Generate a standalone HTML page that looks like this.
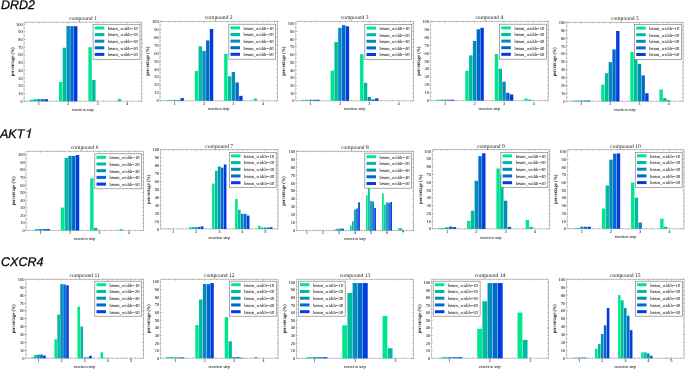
<!DOCTYPE html>
<html><head><meta charset="utf-8"><title>beam width charts</title><style>html,body{margin:0;padding:0;background:#fff;width:685px;height:369px;overflow:hidden}svg{display:block;will-change:transform}</style></head><body>
<svg width="685" height="369" viewBox="0 0 685 369" font-family="'Liberation Serif', serif"><style>text{stroke:none;text-rendering:geometricPrecision} .rl{stroke:#111;stroke-width:0.3px}</style><text class="rl" x="1.0" y="9.0" font-family="'Liberation Sans', sans-serif" font-style="italic" font-size="12.5" fill="#000">DRD2</text><text class="rl" x="0.0" y="137.8" font-family="'Liberation Sans', sans-serif" font-style="italic" font-size="12.5" fill="#000">AKT</text><text class="rl" x="1.1" y="265.9" font-family="'Liberation Sans', sans-serif" font-style="italic" font-size="12.5" fill="#000">CXCR4</text><path d="M29.8 128.6L31.3 128.6L29.35 137.95L27.85 137.95Z M29.9 128.7C29.2 129.9 28.0 130.8 26.45 131.25L26.7 132.35C28.2 131.9 29.4 131.1 30.3 130.1Z" fill="#111"/>
<line x1="24" y1="22.2" x2="141.8" y2="22.2" stroke="#a0a0a0" stroke-width="0.7"/>
<line x1="141.8" y1="22.2" x2="141.8" y2="101.3" stroke="#a0a0a0" stroke-width="0.7"/>
<line x1="24" y1="22.2" x2="24" y2="101.3" stroke="#b4b4b4" stroke-width="0.7"/>
<line x1="24" y1="101.3" x2="141.8" y2="101.3" stroke="#b4b4b4" stroke-width="0.7"/>
<path d="M24 101.3h1.3M141.8 101.3h-1.3M24 97.44h0.8M141.8 97.44h-0.8M24 93.57h1.3M141.8 93.57h-1.3M24 89.71h0.8M141.8 89.71h-0.8M24 85.85h1.3M141.8 85.85h-1.3M24 81.98h0.8M141.8 81.98h-0.8M24 78.12h1.3M141.8 78.12h-1.3M24 74.26h0.8M141.8 74.26h-0.8M24 70.39h1.3M141.8 70.39h-1.3M24 66.53h0.8M141.8 66.53h-0.8M24 62.67h1.3M141.8 62.67h-1.3M24 58.8h0.8M141.8 58.8h-0.8M24 54.94h1.3M141.8 54.94h-1.3M24 51.08h0.8M141.8 51.08h-0.8M24 47.21h1.3M141.8 47.21h-1.3M24 43.35h0.8M141.8 43.35h-0.8M24 39.49h1.3M141.8 39.49h-1.3M24 35.62h0.8M141.8 35.62h-0.8M24 31.76h1.3M141.8 31.76h-1.3M24 27.9h0.8M141.8 27.9h-0.8M24 24.04h1.3M141.8 24.04h-1.3M27 101.3v-0.8M27 22.2v0.8M32.89 101.3v-0.8M32.89 22.2v0.8M38.77 101.3v-1.3M38.77 22.2v1.3M44.65 101.3v-0.8M44.65 22.2v0.8M50.54 101.3v-0.8M50.54 22.2v0.8M56.42 101.3v-0.8M56.42 22.2v0.8M62.31 101.3v-0.8M62.31 22.2v0.8M68.19 101.3v-1.3M68.19 22.2v1.3M74.07 101.3v-0.8M74.07 22.2v0.8M79.96 101.3v-0.8M79.96 22.2v0.8M85.84 101.3v-0.8M85.84 22.2v0.8M91.73 101.3v-0.8M91.73 22.2v0.8M97.61 101.3v-1.3M97.61 22.2v1.3M103.49 101.3v-0.8M103.49 22.2v0.8M109.38 101.3v-0.8M109.38 22.2v0.8M115.26 101.3v-0.8M115.26 22.2v0.8M121.15 101.3v-0.8M121.15 22.2v0.8M127.03 101.3v-1.3M127.03 22.2v1.3M132.91 101.3v-0.8M132.91 22.2v0.8M138.8 101.3v-0.8M138.8 22.2v0.8" stroke="#555" stroke-width="0.45" fill="none"/>
<g><rect x="29.53" y="99.83" width="3.42" height="1.47" fill="#00e68c"/><rect x="33.3" y="99.21" width="3.42" height="2.09" fill="#00baa2"/><rect x="37.06" y="99.21" width="3.42" height="2.09" fill="#008eb9"/><rect x="40.83" y="99.21" width="3.42" height="2.09" fill="#0069cc"/><rect x="44.59" y="99.21" width="3.42" height="2.09" fill="#003cde"/><rect x="58.95" y="81.98" width="3.42" height="19.32" fill="#00e68c"/><rect x="62.72" y="47.68" width="3.42" height="53.62" fill="#00baa2"/><rect x="66.48" y="25.97" width="3.42" height="75.33" fill="#008eb9"/><rect x="70.25" y="26.2" width="3.42" height="75.1" fill="#0069cc"/><rect x="74.01" y="26.2" width="3.42" height="75.1" fill="#003cde"/><rect x="88.37" y="47.21" width="3.42" height="54.09" fill="#00e68c"/><rect x="92.14" y="80.05" width="3.42" height="21.25" fill="#00baa2"/><rect x="117.79" y="98.83" width="3.42" height="2.47" fill="#00e68c"/></g>
<g font-size="4.5" fill="#000"><text x="22.8" y="102.8" text-anchor="end">0</text><text x="22.8" y="95.07" text-anchor="end">10</text><text x="22.8" y="87.35" text-anchor="end">20</text><text x="22.8" y="79.62" text-anchor="end">30</text><text x="22.8" y="71.89" text-anchor="end">40</text><text x="22.8" y="64.17" text-anchor="end">50</text><text x="22.8" y="56.44" text-anchor="end">60</text><text x="22.8" y="48.71" text-anchor="end">70</text><text x="22.8" y="40.99" text-anchor="end">80</text><text x="22.8" y="33.26" text-anchor="end">90</text><text x="22.8" y="25.54" text-anchor="end">100</text><text x="38.77" y="105.1" text-anchor="middle">1</text><text x="68.19" y="105.1" text-anchor="middle">2</text><text x="97.61" y="105.1" text-anchor="middle">3</text><text x="127.03" y="105.1" text-anchor="middle">4</text></g>
<text x="82.9" y="110.9" text-anchor="middle" font-size="4.25" fill="#000">reaction step</text>
<text transform="translate(13.65 61.75) rotate(-90)" text-anchor="middle" font-size="4.75" fill="#000" style="stroke:#000;stroke-width:0.06px">percentage (%)</text>
<text x="82.9" y="20.2" text-anchor="middle" font-size="5.6" fill="#222" stroke="none">compound 1</text>
<rect x="93.1" y="24.3" width="46.9" height="35.0" fill="#fff" stroke="#7a7a7a" stroke-width="0.65"/><rect x="94.8" y="26.5" width="9.5" height="3" fill="#00e68c"/><text x="107.9" y="29.8" font-size="4.6" fill="#000">beam_width=10</text><rect x="94.8" y="33.1" width="9.5" height="3" fill="#00baa2"/><text x="107.9" y="36.4" font-size="4.6" fill="#000">beam_width=20</text><rect x="94.8" y="39.7" width="9.5" height="3" fill="#008eb9"/><text x="107.9" y="43" font-size="4.6" fill="#000">beam_width=30</text><rect x="94.8" y="46.3" width="9.5" height="3" fill="#0069cc"/><text x="107.9" y="49.6" font-size="4.6" fill="#000">beam_width=40</text><rect x="94.8" y="52.9" width="9.5" height="3" fill="#003cde"/><text x="107.9" y="56.2" font-size="4.6" fill="#000">beam_width=50</text>
<line x1="159.9" y1="21.4" x2="277.5" y2="21.4" stroke="#a0a0a0" stroke-width="0.7"/>
<line x1="277.5" y1="21.4" x2="277.5" y2="100.8" stroke="#a0a0a0" stroke-width="0.7"/>
<line x1="159.9" y1="21.4" x2="159.9" y2="100.8" stroke="#b4b4b4" stroke-width="0.7"/>
<line x1="159.9" y1="100.8" x2="277.5" y2="100.8" stroke="#b4b4b4" stroke-width="0.7"/>
<path d="M159.9 100.8h1.3M277.5 100.8h-1.3M159.9 96.83h0.8M277.5 96.83h-0.8M159.9 92.86h1.3M277.5 92.86h-1.3M159.9 88.89h0.8M277.5 88.89h-0.8M159.9 84.92h1.3M277.5 84.92h-1.3M159.9 80.95h0.8M277.5 80.95h-0.8M159.9 76.98h1.3M277.5 76.98h-1.3M159.9 73.01h0.8M277.5 73.01h-0.8M159.9 69.04h1.3M277.5 69.04h-1.3M159.9 65.07h0.8M277.5 65.07h-0.8M159.9 61.1h1.3M277.5 61.1h-1.3M159.9 57.13h0.8M277.5 57.13h-0.8M159.9 53.16h1.3M277.5 53.16h-1.3M159.9 49.19h0.8M277.5 49.19h-0.8M159.9 45.22h1.3M277.5 45.22h-1.3M159.9 41.25h0.8M277.5 41.25h-0.8M159.9 37.28h1.3M277.5 37.28h-1.3M159.9 33.31h0.8M277.5 33.31h-0.8M159.9 29.34h1.3M277.5 29.34h-1.3M159.9 25.37h0.8M277.5 25.37h-0.8M159.9 21.4h1.3M277.5 21.4h-1.3M162.9 100.8v-0.8M162.9 21.4v0.8M168.77 100.8v-0.8M168.77 21.4v0.8M174.64 100.8v-1.3M174.64 21.4v1.3M180.52 100.8v-0.8M180.52 21.4v0.8M186.39 100.8v-0.8M186.39 21.4v0.8M192.27 100.8v-0.8M192.27 21.4v0.8M198.14 100.8v-0.8M198.14 21.4v0.8M204.01 100.8v-1.3M204.01 21.4v1.3M209.89 100.8v-0.8M209.89 21.4v0.8M215.76 100.8v-0.8M215.76 21.4v0.8M221.64 100.8v-0.8M221.64 21.4v0.8M227.51 100.8v-0.8M227.51 21.4v0.8M233.39 100.8v-1.3M233.39 21.4v1.3M239.26 100.8v-0.8M239.26 21.4v0.8M245.13 100.8v-0.8M245.13 21.4v0.8M251.01 100.8v-0.8M251.01 21.4v0.8M256.88 100.8v-0.8M256.88 21.4v0.8M262.76 100.8v-1.3M262.76 21.4v1.3M268.63 100.8v-0.8M268.63 21.4v0.8M274.5 100.8v-0.8M274.5 21.4v0.8" stroke="#555" stroke-width="0.45" fill="none"/>
<g><rect x="165.42" y="100.16" width="3.41" height="0.64" fill="#00e68c"/><rect x="169.18" y="100.16" width="3.41" height="0.64" fill="#00baa2"/><rect x="172.94" y="100.16" width="3.41" height="0.64" fill="#008eb9"/><rect x="176.7" y="100.16" width="3.41" height="0.64" fill="#0069cc"/><rect x="180.46" y="98.1" width="3.41" height="2.7" fill="#003cde"/><rect x="194.79" y="71.02" width="3.41" height="29.78" fill="#00e68c"/><rect x="198.55" y="46.33" width="3.41" height="54.47" fill="#00baa2"/><rect x="202.31" y="50.94" width="3.41" height="49.86" fill="#008eb9"/><rect x="206.07" y="40.46" width="3.41" height="60.34" fill="#0069cc"/><rect x="209.83" y="28.94" width="3.41" height="71.86" fill="#003cde"/><rect x="224.16" y="53.87" width="3.41" height="46.93" fill="#00e68c"/><rect x="227.92" y="76.34" width="3.41" height="24.46" fill="#00baa2"/><rect x="231.68" y="71.98" width="3.41" height="28.82" fill="#008eb9"/><rect x="235.44" y="82.46" width="3.41" height="18.34" fill="#0069cc"/><rect x="239.2" y="95.88" width="3.41" height="4.92" fill="#003cde"/><rect x="253.53" y="98.58" width="3.41" height="2.22" fill="#00e68c"/></g>
<g font-size="4.5" fill="#000"><text x="158.7" y="102.3" text-anchor="end">0</text><text x="158.7" y="94.36" text-anchor="end">10</text><text x="158.7" y="86.42" text-anchor="end">20</text><text x="158.7" y="78.48" text-anchor="end">30</text><text x="158.7" y="70.54" text-anchor="end">40</text><text x="158.7" y="62.6" text-anchor="end">50</text><text x="158.7" y="54.66" text-anchor="end">60</text><text x="158.7" y="46.72" text-anchor="end">70</text><text x="158.7" y="38.78" text-anchor="end">80</text><text x="158.7" y="30.84" text-anchor="end">90</text><text x="158.7" y="22.9" text-anchor="end">100</text><text x="174.64" y="104.6" text-anchor="middle">1</text><text x="204.01" y="104.6" text-anchor="middle">2</text><text x="233.39" y="104.6" text-anchor="middle">3</text><text x="262.76" y="104.6" text-anchor="middle">4</text></g>
<text x="218.7" y="110.4" text-anchor="middle" font-size="4.25" fill="#000">reaction step</text>
<text transform="translate(149.45 61.1) rotate(-90)" text-anchor="middle" font-size="4.75" fill="#000" style="stroke:#000;stroke-width:0.06px">percentage (%)</text>
<text x="218.7" y="19.4" text-anchor="middle" font-size="5.6" fill="#222" stroke="none">compound 2</text>
<rect x="228.8" y="24.2" width="46.9" height="35.0" fill="#fff" stroke="#7a7a7a" stroke-width="0.65"/><rect x="230.5" y="26.4" width="9.5" height="3" fill="#00e68c"/><text x="243.6" y="29.7" font-size="4.6" fill="#000">beam_width=10</text><rect x="230.5" y="33" width="9.5" height="3" fill="#00baa2"/><text x="243.6" y="36.3" font-size="4.6" fill="#000">beam_width=20</text><rect x="230.5" y="39.6" width="9.5" height="3" fill="#008eb9"/><text x="243.6" y="42.9" font-size="4.6" fill="#000">beam_width=30</text><rect x="230.5" y="46.2" width="9.5" height="3" fill="#0069cc"/><text x="243.6" y="49.5" font-size="4.6" fill="#000">beam_width=40</text><rect x="230.5" y="52.8" width="9.5" height="3" fill="#003cde"/><text x="243.6" y="56.1" font-size="4.6" fill="#000">beam_width=50</text>
<line x1="295.7" y1="21.4" x2="413.5" y2="21.4" stroke="#a0a0a0" stroke-width="0.7"/>
<line x1="413.5" y1="21.4" x2="413.5" y2="100.8" stroke="#a0a0a0" stroke-width="0.7"/>
<line x1="295.7" y1="21.4" x2="295.7" y2="100.8" stroke="#b4b4b4" stroke-width="0.7"/>
<line x1="295.7" y1="100.8" x2="413.5" y2="100.8" stroke="#b4b4b4" stroke-width="0.7"/>
<path d="M295.7 100.8h1.3M413.5 100.8h-1.3M295.7 96.95h0.8M413.5 96.95h-0.8M295.7 93.1h1.3M413.5 93.1h-1.3M295.7 89.25h0.8M413.5 89.25h-0.8M295.7 85.4h1.3M413.5 85.4h-1.3M295.7 81.55h0.8M413.5 81.55h-0.8M295.7 77.7h1.3M413.5 77.7h-1.3M295.7 73.85h0.8M413.5 73.85h-0.8M295.7 70h1.3M413.5 70h-1.3M295.7 66.15h0.8M413.5 66.15h-0.8M295.7 62.3h1.3M413.5 62.3h-1.3M295.7 58.45h0.8M413.5 58.45h-0.8M295.7 54.6h1.3M413.5 54.6h-1.3M295.7 50.75h0.8M413.5 50.75h-0.8M295.7 46.9h1.3M413.5 46.9h-1.3M295.7 43.05h0.8M413.5 43.05h-0.8M295.7 39.2h1.3M413.5 39.2h-1.3M295.7 35.35h0.8M413.5 35.35h-0.8M295.7 31.5h1.3M413.5 31.5h-1.3M295.7 27.65h0.8M413.5 27.65h-0.8M295.7 23.79h1.3M413.5 23.79h-1.3M298.7 100.8v-0.8M298.7 21.4v0.8M304.59 100.8v-0.8M304.59 21.4v0.8M310.47 100.8v-1.3M310.47 21.4v1.3M316.35 100.8v-0.8M316.35 21.4v0.8M322.24 100.8v-0.8M322.24 21.4v0.8M328.12 100.8v-0.8M328.12 21.4v0.8M334.01 100.8v-0.8M334.01 21.4v0.8M339.89 100.8v-1.3M339.89 21.4v1.3M345.77 100.8v-0.8M345.77 21.4v0.8M351.66 100.8v-0.8M351.66 21.4v0.8M357.54 100.8v-0.8M357.54 21.4v0.8M363.43 100.8v-0.8M363.43 21.4v0.8M369.31 100.8v-1.3M369.31 21.4v1.3M375.19 100.8v-0.8M375.19 21.4v0.8M381.08 100.8v-0.8M381.08 21.4v0.8M386.96 100.8v-0.8M386.96 21.4v0.8M392.85 100.8v-0.8M392.85 21.4v0.8M398.73 100.8v-1.3M398.73 21.4v1.3M404.61 100.8v-0.8M404.61 21.4v0.8M410.5 100.8v-0.8M410.5 21.4v0.8" stroke="#555" stroke-width="0.45" fill="none"/>
<g><rect x="301.23" y="99.8" width="3.42" height="1" fill="#00e68c"/><rect x="305" y="99.8" width="3.42" height="1" fill="#00baa2"/><rect x="308.76" y="99.8" width="3.42" height="1" fill="#008eb9"/><rect x="312.53" y="99.8" width="3.42" height="1" fill="#0069cc"/><rect x="316.29" y="99.8" width="3.42" height="1" fill="#003cde"/><rect x="330.65" y="70.61" width="3.42" height="30.19" fill="#00e68c"/><rect x="334.42" y="42.05" width="3.42" height="58.75" fill="#00baa2"/><rect x="338.18" y="27.95" width="3.42" height="72.85" fill="#008eb9"/><rect x="341.95" y="25.18" width="3.42" height="75.62" fill="#0069cc"/><rect x="345.71" y="26.34" width="3.42" height="74.46" fill="#003cde"/><rect x="360.07" y="54.29" width="3.42" height="46.51" fill="#00e68c"/><rect x="363.84" y="82.86" width="3.42" height="17.94" fill="#00baa2"/><rect x="367.6" y="97.03" width="3.42" height="3.77" fill="#008eb9"/><rect x="371.37" y="99.41" width="3.42" height="1.39" fill="#0069cc"/><rect x="375.13" y="98.34" width="3.42" height="2.46" fill="#003cde"/><rect x="389.49" y="100.49" width="3.42" height="0.31" fill="#00e68c"/></g>
<g font-size="4.5" fill="#000"><text x="294.5" y="102.3" text-anchor="end">0</text><text x="294.5" y="94.6" text-anchor="end">10</text><text x="294.5" y="86.9" text-anchor="end">20</text><text x="294.5" y="79.2" text-anchor="end">30</text><text x="294.5" y="71.5" text-anchor="end">40</text><text x="294.5" y="63.8" text-anchor="end">50</text><text x="294.5" y="56.1" text-anchor="end">60</text><text x="294.5" y="48.4" text-anchor="end">70</text><text x="294.5" y="40.7" text-anchor="end">80</text><text x="294.5" y="33" text-anchor="end">90</text><text x="294.5" y="25.29" text-anchor="end">100</text><text x="310.47" y="104.6" text-anchor="middle">1</text><text x="339.89" y="104.6" text-anchor="middle">2</text><text x="369.31" y="104.6" text-anchor="middle">3</text><text x="398.73" y="104.6" text-anchor="middle">4</text></g>
<text x="354.6" y="110.4" text-anchor="middle" font-size="4.25" fill="#000">reaction step</text>
<text transform="translate(285.25 61.1) rotate(-90)" text-anchor="middle" font-size="4.75" fill="#000" style="stroke:#000;stroke-width:0.06px">percentage (%)</text>
<text x="354.6" y="19.4" text-anchor="middle" font-size="5.6" fill="#222" stroke="none">compound 3</text>
<rect x="364.8" y="24.4" width="46.9" height="35.0" fill="#fff" stroke="#7a7a7a" stroke-width="0.65"/><rect x="366.5" y="26.6" width="9.5" height="3" fill="#00e68c"/><text x="379.6" y="29.9" font-size="4.6" fill="#000">beam_width=10</text><rect x="366.5" y="33.2" width="9.5" height="3" fill="#00baa2"/><text x="379.6" y="36.5" font-size="4.6" fill="#000">beam_width=20</text><rect x="366.5" y="39.8" width="9.5" height="3" fill="#008eb9"/><text x="379.6" y="43.1" font-size="4.6" fill="#000">beam_width=30</text><rect x="366.5" y="46.4" width="9.5" height="3" fill="#0069cc"/><text x="379.6" y="49.7" font-size="4.6" fill="#000">beam_width=40</text><rect x="366.5" y="53" width="9.5" height="3" fill="#003cde"/><text x="379.6" y="56.3" font-size="4.6" fill="#000">beam_width=50</text>
<line x1="430.3" y1="21.4" x2="548.3" y2="21.4" stroke="#a0a0a0" stroke-width="0.7"/>
<line x1="548.3" y1="21.4" x2="548.3" y2="100.7" stroke="#a0a0a0" stroke-width="0.7"/>
<line x1="430.3" y1="21.4" x2="430.3" y2="100.7" stroke="#b4b4b4" stroke-width="0.7"/>
<line x1="430.3" y1="100.7" x2="548.3" y2="100.7" stroke="#b4b4b4" stroke-width="0.7"/>
<path d="M430.3 100.7h1.3M548.3 100.7h-1.3M430.3 96.73h0.8M548.3 96.73h-0.8M430.3 92.77h1.3M548.3 92.77h-1.3M430.3 88.81h0.8M548.3 88.81h-0.8M430.3 84.84h1.3M548.3 84.84h-1.3M430.3 80.88h0.8M548.3 80.88h-0.8M430.3 76.91h1.3M548.3 76.91h-1.3M430.3 72.94h0.8M548.3 72.94h-0.8M430.3 68.98h1.3M548.3 68.98h-1.3M430.3 65.01h0.8M548.3 65.01h-0.8M430.3 61.05h1.3M548.3 61.05h-1.3M430.3 57.08h0.8M548.3 57.08h-0.8M430.3 53.12h1.3M548.3 53.12h-1.3M430.3 49.15h0.8M548.3 49.15h-0.8M430.3 45.19h1.3M548.3 45.19h-1.3M430.3 41.22h0.8M548.3 41.22h-0.8M430.3 37.26h1.3M548.3 37.26h-1.3M430.3 33.29h0.8M548.3 33.29h-0.8M430.3 29.33h1.3M548.3 29.33h-1.3M430.3 25.36h0.8M548.3 25.36h-0.8M430.3 21.4h1.3M548.3 21.4h-1.3M433.31 100.7v-0.8M433.31 21.4v0.8M439.2 100.7v-0.8M439.2 21.4v0.8M445.09 100.7v-1.3M445.09 21.4v1.3M450.99 100.7v-0.8M450.99 21.4v0.8M456.88 100.7v-0.8M456.88 21.4v0.8M462.78 100.7v-0.8M462.78 21.4v0.8M468.67 100.7v-0.8M468.67 21.4v0.8M474.56 100.7v-1.3M474.56 21.4v1.3M480.46 100.7v-0.8M480.46 21.4v0.8M486.35 100.7v-0.8M486.35 21.4v0.8M492.25 100.7v-0.8M492.25 21.4v0.8M498.14 100.7v-0.8M498.14 21.4v0.8M504.04 100.7v-1.3M504.04 21.4v1.3M509.93 100.7v-0.8M509.93 21.4v0.8M515.82 100.7v-0.8M515.82 21.4v0.8M521.72 100.7v-0.8M521.72 21.4v0.8M527.61 100.7v-0.8M527.61 21.4v0.8M533.51 100.7v-1.3M533.51 21.4v1.3M539.4 100.7v-0.8M539.4 21.4v0.8M545.29 100.7v-0.8M545.29 21.4v0.8" stroke="#555" stroke-width="0.45" fill="none"/>
<g><rect x="435.84" y="99.75" width="3.42" height="0.95" fill="#00e68c"/><rect x="439.61" y="99.75" width="3.42" height="0.95" fill="#00baa2"/><rect x="443.38" y="99.75" width="3.42" height="0.95" fill="#008eb9"/><rect x="447.16" y="99.75" width="3.42" height="0.95" fill="#0069cc"/><rect x="450.93" y="99.75" width="3.42" height="0.95" fill="#003cde"/><rect x="465.31" y="70.8" width="3.42" height="29.9" fill="#00e68c"/><rect x="469.08" y="55.34" width="3.42" height="45.36" fill="#00baa2"/><rect x="472.85" y="40.91" width="3.42" height="59.79" fill="#008eb9"/><rect x="476.63" y="29.25" width="3.42" height="71.45" fill="#0069cc"/><rect x="480.4" y="27.82" width="3.42" height="72.88" fill="#003cde"/><rect x="494.78" y="53.99" width="3.42" height="46.71" fill="#00e68c"/><rect x="498.55" y="68.66" width="3.42" height="32.04" fill="#00baa2"/><rect x="502.32" y="81.67" width="3.42" height="19.03" fill="#008eb9"/><rect x="506.1" y="92.85" width="3.42" height="7.85" fill="#0069cc"/><rect x="509.87" y="94.44" width="3.42" height="6.26" fill="#003cde"/><rect x="524.25" y="98.56" width="3.42" height="2.14" fill="#00e68c"/><rect x="528.02" y="99.59" width="3.42" height="1.11" fill="#00baa2"/></g>
<g font-size="4.5" fill="#000"><text x="429.1" y="102.2" text-anchor="end">0</text><text x="429.1" y="94.27" text-anchor="end">10</text><text x="429.1" y="86.34" text-anchor="end">20</text><text x="429.1" y="78.41" text-anchor="end">30</text><text x="429.1" y="70.48" text-anchor="end">40</text><text x="429.1" y="62.55" text-anchor="end">50</text><text x="429.1" y="54.62" text-anchor="end">60</text><text x="429.1" y="46.69" text-anchor="end">70</text><text x="429.1" y="38.76" text-anchor="end">80</text><text x="429.1" y="30.83" text-anchor="end">90</text><text x="429.1" y="22.9" text-anchor="end">100</text><text x="445.09" y="104.5" text-anchor="middle">1</text><text x="474.56" y="104.5" text-anchor="middle">2</text><text x="504.04" y="104.5" text-anchor="middle">3</text><text x="533.51" y="104.5" text-anchor="middle">4</text></g>
<text x="489.3" y="110.3" text-anchor="middle" font-size="4.25" fill="#000">reaction step</text>
<text transform="translate(420.4 61.05) rotate(-90)" text-anchor="middle" font-size="4.75" fill="#000" style="stroke:#000;stroke-width:0.06px">percentage (%)</text>
<text x="489.3" y="19.4" text-anchor="middle" font-size="5.6" fill="#222" stroke="none">compound 4</text>
<rect x="499.6" y="24.2" width="46.9" height="35.0" fill="#fff" stroke="#7a7a7a" stroke-width="0.65"/><rect x="501.3" y="26.4" width="9.5" height="3" fill="#00e68c"/><text x="514.4" y="29.7" font-size="4.6" fill="#000">beam_width=10</text><rect x="501.3" y="33" width="9.5" height="3" fill="#00baa2"/><text x="514.4" y="36.3" font-size="4.6" fill="#000">beam_width=20</text><rect x="501.3" y="39.6" width="9.5" height="3" fill="#008eb9"/><text x="514.4" y="42.9" font-size="4.6" fill="#000">beam_width=30</text><rect x="501.3" y="46.2" width="9.5" height="3" fill="#0069cc"/><text x="514.4" y="49.5" font-size="4.6" fill="#000">beam_width=40</text><rect x="501.3" y="52.8" width="9.5" height="3" fill="#003cde"/><text x="514.4" y="56.1" font-size="4.6" fill="#000">beam_width=50</text>
<line x1="566.6" y1="22.4" x2="683.2" y2="22.4" stroke="#a0a0a0" stroke-width="0.7"/>
<line x1="683.2" y1="22.4" x2="683.2" y2="101.35" stroke="#a0a0a0" stroke-width="0.7"/>
<line x1="566.6" y1="22.4" x2="566.6" y2="101.35" stroke="#b4b4b4" stroke-width="0.7"/>
<line x1="566.6" y1="101.35" x2="683.2" y2="101.35" stroke="#b4b4b4" stroke-width="0.7"/>
<path d="M566.6 101.35h1.3M683.2 101.35h-1.3M566.6 97.4h0.8M683.2 97.4h-0.8M566.6 93.45h1.3M683.2 93.45h-1.3M566.6 89.51h0.8M683.2 89.51h-0.8M566.6 85.56h1.3M683.2 85.56h-1.3M566.6 81.61h0.8M683.2 81.61h-0.8M566.6 77.66h1.3M683.2 77.66h-1.3M566.6 73.72h0.8M683.2 73.72h-0.8M566.6 69.77h1.3M683.2 69.77h-1.3M566.6 65.82h0.8M683.2 65.82h-0.8M566.6 61.88h1.3M683.2 61.88h-1.3M566.6 57.93h0.8M683.2 57.93h-0.8M566.6 53.98h1.3M683.2 53.98h-1.3M566.6 50.03h0.8M683.2 50.03h-0.8M566.6 46.09h1.3M683.2 46.09h-1.3M566.6 42.14h0.8M683.2 42.14h-0.8M566.6 38.19h1.3M683.2 38.19h-1.3M566.6 34.24h0.8M683.2 34.24h-0.8M566.6 30.3h1.3M683.2 30.3h-1.3M566.6 26.35h0.8M683.2 26.35h-0.8M566.6 22.4h1.3M683.2 22.4h-1.3M569.57 101.35v-0.8M569.57 22.4v0.8M575.39 101.35v-0.8M575.39 22.4v0.8M581.22 101.35v-1.3M581.22 22.4v1.3M587.04 101.35v-0.8M587.04 22.4v0.8M592.87 101.35v-0.8M592.87 22.4v0.8M598.69 101.35v-0.8M598.69 22.4v0.8M604.52 101.35v-0.8M604.52 22.4v0.8M610.34 101.35v-1.3M610.34 22.4v1.3M616.16 101.35v-0.8M616.16 22.4v0.8M621.99 101.35v-0.8M621.99 22.4v0.8M627.81 101.35v-0.8M627.81 22.4v0.8M633.64 101.35v-0.8M633.64 22.4v0.8M639.46 101.35v-1.3M639.46 22.4v1.3M645.28 101.35v-0.8M645.28 22.4v0.8M651.11 101.35v-0.8M651.11 22.4v0.8M656.93 101.35v-0.8M656.93 22.4v0.8M662.76 101.35v-0.8M662.76 22.4v0.8M668.58 101.35v-1.3M668.58 22.4v1.3M674.41 101.35v-0.8M674.41 22.4v0.8M680.23 101.35v-0.8M680.23 22.4v0.8" stroke="#555" stroke-width="0.45" fill="none"/>
<g><rect x="572.07" y="100.56" width="3.38" height="0.79" fill="#00e68c"/><rect x="575.8" y="100.56" width="3.38" height="0.79" fill="#00baa2"/><rect x="579.53" y="100.56" width="3.38" height="0.79" fill="#008eb9"/><rect x="583.26" y="100.56" width="3.38" height="0.79" fill="#0069cc"/><rect x="586.98" y="100.56" width="3.38" height="0.79" fill="#003cde"/><rect x="601.2" y="84.61" width="3.38" height="16.74" fill="#00e68c"/><rect x="604.92" y="73.24" width="3.38" height="28.11" fill="#00baa2"/><rect x="608.65" y="62.11" width="3.38" height="39.24" fill="#008eb9"/><rect x="612.38" y="49.4" width="3.38" height="51.95" fill="#0069cc"/><rect x="616.11" y="31.01" width="3.38" height="70.34" fill="#003cde"/><rect x="630.32" y="52.09" width="3.38" height="49.26" fill="#00e68c"/><rect x="634.04" y="55.16" width="3.38" height="46.19" fill="#00baa2"/><rect x="637.77" y="63.85" width="3.38" height="37.5" fill="#008eb9"/><rect x="641.5" y="75.38" width="3.38" height="25.97" fill="#0069cc"/><rect x="645.23" y="93.22" width="3.38" height="8.13" fill="#003cde"/><rect x="659.44" y="89.43" width="3.38" height="11.92" fill="#00e68c"/><rect x="663.17" y="98.11" width="3.38" height="3.24" fill="#00baa2"/><rect x="666.89" y="100.24" width="3.38" height="1.11" fill="#008eb9"/></g>
<g font-size="4.5" fill="#000"><text x="565.4" y="102.85" text-anchor="end">0</text><text x="565.4" y="94.95" text-anchor="end">10</text><text x="565.4" y="87.06" text-anchor="end">20</text><text x="565.4" y="79.16" text-anchor="end">30</text><text x="565.4" y="71.27" text-anchor="end">40</text><text x="565.4" y="63.38" text-anchor="end">50</text><text x="565.4" y="55.48" text-anchor="end">60</text><text x="565.4" y="47.59" text-anchor="end">70</text><text x="565.4" y="39.69" text-anchor="end">80</text><text x="565.4" y="31.8" text-anchor="end">90</text><text x="565.4" y="23.9" text-anchor="end">100</text><text x="581.22" y="105.15" text-anchor="middle">1</text><text x="610.34" y="105.15" text-anchor="middle">2</text><text x="639.46" y="105.15" text-anchor="middle">3</text><text x="668.58" y="105.15" text-anchor="middle">4</text></g>
<text x="624.9" y="110.95" text-anchor="middle" font-size="4.25" fill="#000">reaction step</text>
<text transform="translate(556.25 61.88) rotate(-90)" text-anchor="middle" font-size="4.75" fill="#000" style="stroke:#000;stroke-width:0.06px">percentage (%)</text>
<text x="624.9" y="20.4" text-anchor="middle" font-size="5.6" fill="#222" stroke="none">compound 5</text>
<rect x="634.5" y="24.4" width="46.9" height="35.0" fill="#fff" stroke="#7a7a7a" stroke-width="0.65"/><rect x="636.2" y="26.6" width="9.5" height="3" fill="#00e68c"/><text x="649.3" y="29.9" font-size="4.6" fill="#000">beam_width=10</text><rect x="636.2" y="33.2" width="9.5" height="3" fill="#00baa2"/><text x="649.3" y="36.5" font-size="4.6" fill="#000">beam_width=20</text><rect x="636.2" y="39.8" width="9.5" height="3" fill="#008eb9"/><text x="649.3" y="43.1" font-size="4.6" fill="#000">beam_width=30</text><rect x="636.2" y="46.4" width="9.5" height="3" fill="#0069cc"/><text x="649.3" y="49.7" font-size="4.6" fill="#000">beam_width=40</text><rect x="636.2" y="53" width="9.5" height="3" fill="#003cde"/><text x="649.3" y="56.3" font-size="4.6" fill="#000">beam_width=50</text>
<line x1="25.9" y1="151.3" x2="143.5" y2="151.3" stroke="#a0a0a0" stroke-width="0.7"/>
<line x1="143.5" y1="151.3" x2="143.5" y2="230.5" stroke="#a0a0a0" stroke-width="0.7"/>
<line x1="25.9" y1="151.3" x2="25.9" y2="230.5" stroke="#b4b4b4" stroke-width="0.7"/>
<line x1="25.9" y1="230.5" x2="143.5" y2="230.5" stroke="#b4b4b4" stroke-width="0.7"/>
<path d="M25.9 230.5h1.3M143.5 230.5h-1.3M25.9 226.71h0.8M143.5 226.71h-0.8M25.9 222.93h1.3M143.5 222.93h-1.3M25.9 219.14h0.8M143.5 219.14h-0.8M25.9 215.35h1.3M143.5 215.35h-1.3M25.9 211.57h0.8M143.5 211.57h-0.8M25.9 207.78h1.3M143.5 207.78h-1.3M25.9 203.99h0.8M143.5 203.99h-0.8M25.9 200.21h1.3M143.5 200.21h-1.3M25.9 196.42h0.8M143.5 196.42h-0.8M25.9 192.63h1.3M143.5 192.63h-1.3M25.9 188.85h0.8M143.5 188.85h-0.8M25.9 185.06h1.3M143.5 185.06h-1.3M25.9 181.27h0.8M143.5 181.27h-0.8M25.9 177.49h1.3M143.5 177.49h-1.3M25.9 173.7h0.8M143.5 173.7h-0.8M25.9 169.91h1.3M143.5 169.91h-1.3M25.9 166.13h0.8M143.5 166.13h-0.8M25.9 162.34h1.3M143.5 162.34h-1.3M25.9 158.56h0.8M143.5 158.56h-0.8M25.9 154.77h1.3M143.5 154.77h-1.3M28.9 230.5v-0.8M28.9 151.3v0.8M34.77 230.5v-0.8M34.77 151.3v0.8M40.64 230.5v-1.3M40.64 151.3v1.3M46.52 230.5v-0.8M46.52 151.3v0.8M52.39 230.5v-0.8M52.39 151.3v0.8M58.27 230.5v-0.8M58.27 151.3v0.8M64.14 230.5v-0.8M64.14 151.3v0.8M70.01 230.5v-1.3M70.01 151.3v1.3M75.89 230.5v-0.8M75.89 151.3v0.8M81.76 230.5v-0.8M81.76 151.3v0.8M87.64 230.5v-0.8M87.64 151.3v0.8M93.51 230.5v-0.8M93.51 151.3v0.8M99.39 230.5v-1.3M99.39 151.3v1.3M105.26 230.5v-0.8M105.26 151.3v0.8M111.13 230.5v-0.8M111.13 151.3v0.8M117.01 230.5v-0.8M117.01 151.3v0.8M122.88 230.5v-0.8M122.88 151.3v0.8M128.76 230.5v-1.3M128.76 151.3v1.3M134.63 230.5v-0.8M134.63 151.3v0.8M140.5 230.5v-0.8M140.5 151.3v0.8" stroke="#555" stroke-width="0.45" fill="none"/>
<g><rect x="31.42" y="230.12" width="3.41" height="0.38" fill="#00e68c"/><rect x="35.18" y="229.06" width="3.41" height="1.44" fill="#00baa2"/><rect x="38.94" y="229.06" width="3.41" height="1.44" fill="#008eb9"/><rect x="42.7" y="229.06" width="3.41" height="1.44" fill="#0069cc"/><rect x="46.46" y="229.06" width="3.41" height="1.44" fill="#003cde"/><rect x="60.79" y="207.55" width="3.41" height="22.95" fill="#00e68c"/><rect x="64.55" y="157.87" width="3.41" height="72.63" fill="#00baa2"/><rect x="68.31" y="155.9" width="3.41" height="74.6" fill="#008eb9"/><rect x="72.07" y="155.9" width="3.41" height="74.6" fill="#0069cc"/><rect x="75.83" y="155.07" width="3.41" height="75.43" fill="#003cde"/><rect x="90.16" y="178.32" width="3.41" height="52.18" fill="#00e68c"/><rect x="93.92" y="227.93" width="3.41" height="2.57" fill="#00baa2"/><rect x="119.53" y="229.06" width="3.41" height="1.44" fill="#00e68c"/></g>
<g font-size="4.5" fill="#000"><text x="24.7" y="232" text-anchor="end">0</text><text x="24.7" y="224.43" text-anchor="end">10</text><text x="24.7" y="216.85" text-anchor="end">20</text><text x="24.7" y="209.28" text-anchor="end">30</text><text x="24.7" y="201.71" text-anchor="end">40</text><text x="24.7" y="194.13" text-anchor="end">50</text><text x="24.7" y="186.56" text-anchor="end">60</text><text x="24.7" y="178.99" text-anchor="end">70</text><text x="24.7" y="171.41" text-anchor="end">80</text><text x="24.7" y="163.84" text-anchor="end">90</text><text x="24.7" y="156.27" text-anchor="end">100</text><text x="40.64" y="234.3" text-anchor="middle">1</text><text x="70.01" y="234.3" text-anchor="middle">2</text><text x="99.39" y="234.3" text-anchor="middle">3</text><text x="128.76" y="234.3" text-anchor="middle">4</text></g>
<text x="84.7" y="240.1" text-anchor="middle" font-size="4.25" fill="#000">reaction step</text>
<text transform="translate(15.45 190.9) rotate(-90)" text-anchor="middle" font-size="4.75" fill="#000" style="stroke:#000;stroke-width:0.06px">percentage (%)</text>
<text x="84.7" y="149.3" text-anchor="middle" font-size="5.6" fill="#222" stroke="none">compound 6</text>
<rect x="94.8" y="153.8" width="46.9" height="35.0" fill="#fff" stroke="#7a7a7a" stroke-width="0.65"/><rect x="96.5" y="155.8" width="9.5" height="3" fill="#00e68c"/><text x="109.6" y="159.1" font-size="4.6" fill="#000">beam_width=10</text><rect x="96.5" y="162.5" width="9.5" height="3" fill="#00baa2"/><text x="109.6" y="165.8" font-size="4.6" fill="#000">beam_width=20</text><rect x="96.5" y="169.2" width="9.5" height="3" fill="#008eb9"/><text x="109.6" y="172.5" font-size="4.6" fill="#000">beam_width=30</text><rect x="96.5" y="175.9" width="9.5" height="3" fill="#0069cc"/><text x="109.6" y="179.2" font-size="4.6" fill="#000">beam_width=40</text><rect x="96.5" y="182.6" width="9.5" height="3" fill="#003cde"/><text x="109.6" y="185.9" font-size="4.6" fill="#000">beam_width=50</text>
<line x1="160.5" y1="149.6" x2="278" y2="149.6" stroke="#a0a0a0" stroke-width="0.7"/>
<line x1="278" y1="149.6" x2="278" y2="229" stroke="#a0a0a0" stroke-width="0.7"/>
<line x1="160.5" y1="149.6" x2="160.5" y2="229" stroke="#b4b4b4" stroke-width="0.7"/>
<line x1="160.5" y1="229" x2="278" y2="229" stroke="#b4b4b4" stroke-width="0.7"/>
<path d="M160.5 229h1.3M278 229h-1.3M160.5 225.03h0.8M278 225.03h-0.8M160.5 221.06h1.3M278 221.06h-1.3M160.5 217.09h0.8M278 217.09h-0.8M160.5 213.12h1.3M278 213.12h-1.3M160.5 209.15h0.8M278 209.15h-0.8M160.5 205.18h1.3M278 205.18h-1.3M160.5 201.21h0.8M278 201.21h-0.8M160.5 197.24h1.3M278 197.24h-1.3M160.5 193.27h0.8M278 193.27h-0.8M160.5 189.3h1.3M278 189.3h-1.3M160.5 185.33h0.8M278 185.33h-0.8M160.5 181.36h1.3M278 181.36h-1.3M160.5 177.39h0.8M278 177.39h-0.8M160.5 173.42h1.3M278 173.42h-1.3M160.5 169.45h0.8M278 169.45h-0.8M160.5 165.48h1.3M278 165.48h-1.3M160.5 161.51h0.8M278 161.51h-0.8M160.5 157.54h1.3M278 157.54h-1.3M160.5 153.57h0.8M278 153.57h-0.8M160.5 149.6h1.3M278 149.6h-1.3M164 229v-0.8M164 149.6v0.8M168.6 229v-0.8M168.6 149.6v0.8M173.21 229v-1.3M173.21 149.6v1.3M177.81 229v-0.8M177.81 149.6v0.8M182.42 229v-0.8M182.42 149.6v0.8M187.02 229v-0.8M187.02 149.6v0.8M191.62 229v-0.8M191.62 149.6v0.8M196.23 229v-1.3M196.23 149.6v1.3M200.83 229v-0.8M200.83 149.6v0.8M205.44 229v-0.8M205.44 149.6v0.8M210.04 229v-0.8M210.04 149.6v0.8M214.65 229v-0.8M214.65 149.6v0.8M219.25 229v-1.3M219.25 149.6v1.3M223.85 229v-0.8M223.85 149.6v0.8M228.46 229v-0.8M228.46 149.6v0.8M233.06 229v-0.8M233.06 149.6v0.8M237.67 229v-0.8M237.67 149.6v0.8M242.27 229v-1.3M242.27 149.6v1.3M246.88 229v-0.8M246.88 149.6v0.8M251.48 229v-0.8M251.48 149.6v0.8M256.08 229v-0.8M256.08 149.6v0.8M260.69 229v-0.8M260.69 149.6v0.8M265.29 229v-1.3M265.29 149.6v1.3M269.9 229v-0.8M269.9 149.6v0.8M274.5 229v-0.8M274.5 149.6v0.8" stroke="#555" stroke-width="0.45" fill="none"/>
<g><rect x="166.02" y="228.6" width="2.6" height="0.4" fill="#00e68c"/><rect x="168.96" y="228.76" width="2.6" height="0.24" fill="#00baa2"/><rect x="189.04" y="227.09" width="2.6" height="1.91" fill="#00e68c"/><rect x="191.98" y="227.09" width="2.6" height="1.91" fill="#00baa2"/><rect x="194.93" y="227.09" width="2.6" height="1.91" fill="#008eb9"/><rect x="197.88" y="226.94" width="2.6" height="2.06" fill="#0069cc"/><rect x="200.82" y="226.38" width="2.6" height="2.62" fill="#003cde"/><rect x="212.06" y="183.58" width="2.6" height="45.42" fill="#00e68c"/><rect x="215" y="170.72" width="2.6" height="58.28" fill="#00baa2"/><rect x="217.95" y="166.43" width="2.6" height="62.57" fill="#008eb9"/><rect x="220.9" y="167.62" width="2.6" height="61.38" fill="#0069cc"/><rect x="223.85" y="164.45" width="2.6" height="64.55" fill="#003cde"/><rect x="235.08" y="198.99" width="2.6" height="30.01" fill="#00e68c"/><rect x="238.03" y="209.86" width="2.6" height="19.14" fill="#00baa2"/><rect x="240.97" y="213.83" width="2.6" height="15.17" fill="#008eb9"/><rect x="243.92" y="213.83" width="2.6" height="15.17" fill="#0069cc"/><rect x="246.87" y="215.58" width="2.6" height="13.42" fill="#003cde"/><rect x="258.1" y="225.82" width="2.6" height="3.18" fill="#00e68c"/><rect x="261.05" y="227.57" width="2.6" height="1.43" fill="#00baa2"/><rect x="263.99" y="227.57" width="2.6" height="1.43" fill="#008eb9"/><rect x="266.94" y="227.57" width="2.6" height="1.43" fill="#0069cc"/><rect x="269.89" y="227.25" width="2.6" height="1.75" fill="#003cde"/></g>
<g font-size="4.5" fill="#000"><text x="159.3" y="230.5" text-anchor="end">0</text><text x="159.3" y="222.56" text-anchor="end">10</text><text x="159.3" y="214.62" text-anchor="end">20</text><text x="159.3" y="206.68" text-anchor="end">30</text><text x="159.3" y="198.74" text-anchor="end">40</text><text x="159.3" y="190.8" text-anchor="end">50</text><text x="159.3" y="182.86" text-anchor="end">60</text><text x="159.3" y="174.92" text-anchor="end">70</text><text x="159.3" y="166.98" text-anchor="end">80</text><text x="159.3" y="159.04" text-anchor="end">90</text><text x="159.3" y="151.1" text-anchor="end">100</text><text x="173.21" y="232.8" text-anchor="middle">1</text><text x="196.23" y="232.8" text-anchor="middle">2</text><text x="219.25" y="232.8" text-anchor="middle">3</text><text x="242.27" y="232.8" text-anchor="middle">4</text><text x="265.29" y="232.8" text-anchor="middle">5</text></g>
<text x="219.25" y="238.6" text-anchor="middle" font-size="4.25" fill="#000">reaction step</text>
<text transform="translate(150 189.3) rotate(-90)" text-anchor="middle" font-size="4.75" fill="#000" style="stroke:#000;stroke-width:0.06px">percentage (%)</text>
<text x="219.25" y="147.6" text-anchor="middle" font-size="5.6" fill="#222" stroke="none">compound 7</text>
<rect x="229.3" y="152.4" width="46.9" height="35.0" fill="#fff" stroke="#7a7a7a" stroke-width="0.65"/><rect x="231" y="154.4" width="9.5" height="3" fill="#00e68c"/><text x="244.1" y="157.7" font-size="4.6" fill="#000">beam_width=10</text><rect x="231" y="161.1" width="9.5" height="3" fill="#00baa2"/><text x="244.1" y="164.4" font-size="4.6" fill="#000">beam_width=20</text><rect x="231" y="167.8" width="9.5" height="3" fill="#008eb9"/><text x="244.1" y="171.1" font-size="4.6" fill="#000">beam_width=30</text><rect x="231" y="174.5" width="9.5" height="3" fill="#0069cc"/><text x="244.1" y="177.8" font-size="4.6" fill="#000">beam_width=40</text><rect x="231" y="181.2" width="9.5" height="3" fill="#003cde"/><text x="244.1" y="184.5" font-size="4.6" fill="#000">beam_width=50</text>
<line x1="296.4" y1="151.3" x2="413.5" y2="151.3" stroke="#a0a0a0" stroke-width="0.7"/>
<line x1="413.5" y1="151.3" x2="413.5" y2="230.6" stroke="#a0a0a0" stroke-width="0.7"/>
<line x1="296.4" y1="151.3" x2="296.4" y2="230.6" stroke="#b4b4b4" stroke-width="0.7"/>
<line x1="296.4" y1="230.6" x2="413.5" y2="230.6" stroke="#b4b4b4" stroke-width="0.7"/>
<path d="M296.4 230.6h1.3M413.5 230.6h-1.3M296.4 226.63h0.8M413.5 226.63h-0.8M296.4 222.67h1.3M413.5 222.67h-1.3M296.4 218.7h0.8M413.5 218.7h-0.8M296.4 214.74h1.3M413.5 214.74h-1.3M296.4 210.78h0.8M413.5 210.78h-0.8M296.4 206.81h1.3M413.5 206.81h-1.3M296.4 202.84h0.8M413.5 202.84h-0.8M296.4 198.88h1.3M413.5 198.88h-1.3M296.4 194.91h0.8M413.5 194.91h-0.8M296.4 190.95h1.3M413.5 190.95h-1.3M296.4 186.99h0.8M413.5 186.99h-0.8M296.4 183.02h1.3M413.5 183.02h-1.3M296.4 179.06h0.8M413.5 179.06h-0.8M296.4 175.09h1.3M413.5 175.09h-1.3M296.4 171.12h0.8M413.5 171.12h-0.8M296.4 167.16h1.3M413.5 167.16h-1.3M296.4 163.19h0.8M413.5 163.19h-0.8M296.4 159.23h1.3M413.5 159.23h-1.3M296.4 155.27h0.8M413.5 155.27h-0.8M296.4 151.3h1.3M413.5 151.3h-1.3M297.23 230.6v-0.8M297.23 151.3v0.8M300.44 230.6v-0.8M300.44 151.3v0.8M303.65 230.6v-0.8M303.65 151.3v0.8M306.85 230.6v-1.3M306.85 151.3v1.3M310.06 230.6v-0.8M310.06 151.3v0.8M313.27 230.6v-0.8M313.27 151.3v0.8M316.47 230.6v-0.8M316.47 151.3v0.8M319.68 230.6v-0.8M319.68 151.3v0.8M322.89 230.6v-1.3M322.89 151.3v1.3M326.09 230.6v-0.8M326.09 151.3v0.8M329.3 230.6v-0.8M329.3 151.3v0.8M332.5 230.6v-0.8M332.5 151.3v0.8M335.71 230.6v-0.8M335.71 151.3v0.8M338.92 230.6v-1.3M338.92 151.3v1.3M342.12 230.6v-0.8M342.12 151.3v0.8M345.33 230.6v-0.8M345.33 151.3v0.8M348.54 230.6v-0.8M348.54 151.3v0.8M351.74 230.6v-0.8M351.74 151.3v0.8M354.95 230.6v-1.3M354.95 151.3v1.3M358.16 230.6v-0.8M358.16 151.3v0.8M361.36 230.6v-0.8M361.36 151.3v0.8M364.57 230.6v-0.8M364.57 151.3v0.8M367.78 230.6v-0.8M367.78 151.3v0.8M370.98 230.6v-1.3M370.98 151.3v1.3M374.19 230.6v-0.8M374.19 151.3v0.8M377.4 230.6v-0.8M377.4 151.3v0.8M380.6 230.6v-0.8M380.6 151.3v0.8M383.81 230.6v-0.8M383.81 151.3v0.8M387.01 230.6v-1.3M387.01 151.3v1.3M390.22 230.6v-0.8M390.22 151.3v0.8M393.43 230.6v-0.8M393.43 151.3v0.8M396.63 230.6v-0.8M396.63 151.3v0.8M399.84 230.6v-0.8M399.84 151.3v0.8M403.05 230.6v-1.3M403.05 151.3v1.3M406.25 230.6v-0.8M406.25 151.3v0.8M409.46 230.6v-0.8M409.46 151.3v0.8M412.67 230.6v-0.8M412.67 151.3v0.8" stroke="#555" stroke-width="0.45" fill="none"/>
<g><rect x="301.9" y="230.36" width="1.7" height="0.24" fill="#00e68c"/><rect x="317.93" y="230.2" width="1.7" height="0.4" fill="#00e68c"/><rect x="319.98" y="230.36" width="1.7" height="0.24" fill="#00baa2"/><rect x="333.96" y="229.41" width="1.7" height="1.19" fill="#00e68c"/><rect x="336.01" y="228.86" width="1.7" height="1.74" fill="#00baa2"/><rect x="338.07" y="228.62" width="1.7" height="1.98" fill="#008eb9"/><rect x="340.12" y="228.62" width="1.7" height="1.98" fill="#0069cc"/><rect x="342.17" y="228.62" width="1.7" height="1.98" fill="#003cde"/><rect x="349.99" y="225.45" width="1.7" height="5.15" fill="#00e68c"/><rect x="352.05" y="221.16" width="1.7" height="9.44" fill="#00baa2"/><rect x="354.1" y="209.51" width="1.7" height="21.09" fill="#008eb9"/><rect x="356.15" y="208.4" width="1.7" height="22.2" fill="#0069cc"/><rect x="358.2" y="202.37" width="1.7" height="28.23" fill="#003cde"/><rect x="366.03" y="195.23" width="1.7" height="35.37" fill="#00e68c"/><rect x="368.08" y="187.54" width="1.7" height="43.06" fill="#00baa2"/><rect x="370.13" y="200.94" width="1.7" height="29.66" fill="#008eb9"/><rect x="372.18" y="201.5" width="1.7" height="29.1" fill="#0069cc"/><rect x="374.24" y="208.08" width="1.7" height="22.52" fill="#003cde"/><rect x="382.06" y="193.25" width="1.7" height="37.35" fill="#00e68c"/><rect x="384.11" y="204.67" width="1.7" height="25.93" fill="#00baa2"/><rect x="386.16" y="202.37" width="1.7" height="28.23" fill="#008eb9"/><rect x="388.22" y="202.92" width="1.7" height="27.68" fill="#0069cc"/><rect x="390.27" y="202.05" width="1.7" height="28.55" fill="#003cde"/><rect x="398.09" y="228.06" width="1.7" height="2.54" fill="#00e68c"/><rect x="400.14" y="228.06" width="1.7" height="2.54" fill="#00baa2"/><rect x="402.2" y="229.97" width="1.7" height="0.63" fill="#008eb9"/></g>
<g font-size="4.5" fill="#000"><text x="295.2" y="232.1" text-anchor="end">0</text><text x="295.2" y="224.17" text-anchor="end">10</text><text x="295.2" y="216.24" text-anchor="end">20</text><text x="295.2" y="208.31" text-anchor="end">30</text><text x="295.2" y="200.38" text-anchor="end">40</text><text x="295.2" y="192.45" text-anchor="end">50</text><text x="295.2" y="184.52" text-anchor="end">60</text><text x="295.2" y="176.59" text-anchor="end">70</text><text x="295.2" y="168.66" text-anchor="end">80</text><text x="295.2" y="160.73" text-anchor="end">90</text><text x="295.2" y="152.8" text-anchor="end">100</text><text x="306.85" y="234.4" text-anchor="middle">1</text><text x="322.89" y="234.4" text-anchor="middle">2</text><text x="338.92" y="234.4" text-anchor="middle">3</text><text x="354.95" y="234.4" text-anchor="middle">4</text><text x="370.98" y="234.4" text-anchor="middle">5</text><text x="387.01" y="234.4" text-anchor="middle">6</text><text x="403.05" y="234.4" text-anchor="middle">7</text></g>
<text x="354.95" y="240.2" text-anchor="middle" font-size="4.25" fill="#000">reaction step</text>
<text transform="translate(285.45 190.95) rotate(-90)" text-anchor="middle" font-size="4.75" fill="#000" style="stroke:#000;stroke-width:0.06px">percentage (%)</text>
<text x="354.95" y="149.3" text-anchor="middle" font-size="5.6" fill="#222" stroke="none">compound 8</text>
<rect x="364.8" y="153.2" width="46.9" height="35.0" fill="#fff" stroke="#7a7a7a" stroke-width="0.65"/><rect x="366.5" y="155.2" width="9.5" height="3" fill="#00e68c"/><text x="379.6" y="158.5" font-size="4.6" fill="#000">beam_width=10</text><rect x="366.5" y="161.9" width="9.5" height="3" fill="#00baa2"/><text x="379.6" y="165.2" font-size="4.6" fill="#000">beam_width=20</text><rect x="366.5" y="168.6" width="9.5" height="3" fill="#008eb9"/><text x="379.6" y="171.9" font-size="4.6" fill="#000">beam_width=30</text><rect x="366.5" y="175.3" width="9.5" height="3" fill="#0069cc"/><text x="379.6" y="178.6" font-size="4.6" fill="#000">beam_width=40</text><rect x="366.5" y="182" width="9.5" height="3" fill="#003cde"/><text x="379.6" y="185.3" font-size="4.6" fill="#000">beam_width=50</text>
<line x1="432.3" y1="149.5" x2="549.6" y2="149.5" stroke="#a0a0a0" stroke-width="0.7"/>
<line x1="549.6" y1="149.5" x2="549.6" y2="228.9" stroke="#a0a0a0" stroke-width="0.7"/>
<line x1="432.3" y1="149.5" x2="432.3" y2="228.9" stroke="#b4b4b4" stroke-width="0.7"/>
<line x1="432.3" y1="228.9" x2="549.6" y2="228.9" stroke="#b4b4b4" stroke-width="0.7"/>
<path d="M432.3 228.9h1.3M549.6 228.9h-1.3M432.3 225.01h0.8M549.6 225.01h-0.8M432.3 221.13h1.3M549.6 221.13h-1.3M432.3 217.24h0.8M549.6 217.24h-0.8M432.3 213.36h1.3M549.6 213.36h-1.3M432.3 209.47h0.8M549.6 209.47h-0.8M432.3 205.58h1.3M549.6 205.58h-1.3M432.3 201.7h0.8M549.6 201.7h-0.8M432.3 197.81h1.3M549.6 197.81h-1.3M432.3 193.93h0.8M549.6 193.93h-0.8M432.3 190.04h1.3M549.6 190.04h-1.3M432.3 186.16h0.8M549.6 186.16h-0.8M432.3 182.27h1.3M549.6 182.27h-1.3M432.3 178.38h0.8M549.6 178.38h-0.8M432.3 174.5h1.3M549.6 174.5h-1.3M432.3 170.61h0.8M549.6 170.61h-0.8M432.3 166.73h1.3M549.6 166.73h-1.3M432.3 162.84h0.8M549.6 162.84h-0.8M432.3 158.95h1.3M549.6 158.95h-1.3M432.3 155.07h0.8M549.6 155.07h-0.8M432.3 151.18h1.3M549.6 151.18h-1.3M435.29 228.9v-0.8M435.29 149.5v0.8M441.15 228.9v-0.8M441.15 149.5v0.8M447.01 228.9v-1.3M447.01 149.5v1.3M452.87 228.9v-0.8M452.87 149.5v0.8M458.72 228.9v-0.8M458.72 149.5v0.8M464.58 228.9v-0.8M464.58 149.5v0.8M470.44 228.9v-0.8M470.44 149.5v0.8M476.3 228.9v-1.3M476.3 149.5v1.3M482.16 228.9v-0.8M482.16 149.5v0.8M488.02 228.9v-0.8M488.02 149.5v0.8M493.88 228.9v-0.8M493.88 149.5v0.8M499.74 228.9v-0.8M499.74 149.5v0.8M505.6 228.9v-1.3M505.6 149.5v1.3M511.46 228.9v-0.8M511.46 149.5v0.8M517.32 228.9v-0.8M517.32 149.5v0.8M523.18 228.9v-0.8M523.18 149.5v0.8M529.03 228.9v-0.8M529.03 149.5v0.8M534.89 228.9v-1.3M534.89 149.5v1.3M540.75 228.9v-0.8M540.75 149.5v0.8M546.61 228.9v-0.8M546.61 149.5v0.8" stroke="#555" stroke-width="0.45" fill="none"/>
<g><rect x="437.81" y="228.05" width="3.4" height="0.85" fill="#00e68c"/><rect x="441.56" y="228.05" width="3.4" height="0.85" fill="#00baa2"/><rect x="445.31" y="227.42" width="3.4" height="1.48" fill="#008eb9"/><rect x="449.06" y="226.57" width="3.4" height="2.33" fill="#0069cc"/><rect x="452.81" y="227.19" width="3.4" height="1.71" fill="#003cde"/><rect x="467.1" y="220.82" width="3.4" height="8.08" fill="#00e68c"/><rect x="470.85" y="210.79" width="3.4" height="18.11" fill="#00baa2"/><rect x="474.6" y="180.79" width="3.4" height="48.11" fill="#008eb9"/><rect x="478.35" y="156.16" width="3.4" height="72.74" fill="#0069cc"/><rect x="482.1" y="153.28" width="3.4" height="75.62" fill="#003cde"/><rect x="496.4" y="168.44" width="3.4" height="60.46" fill="#00e68c"/><rect x="500.15" y="174.5" width="3.4" height="54.4" fill="#00baa2"/><rect x="503.9" y="200.69" width="3.4" height="28.21" fill="#008eb9"/><rect x="507.65" y="226.88" width="3.4" height="2.02" fill="#0069cc"/><rect x="525.69" y="219.96" width="3.4" height="8.94" fill="#00e68c"/><rect x="529.44" y="226.88" width="3.4" height="2.02" fill="#00baa2"/></g>
<g font-size="4.5" fill="#000"><text x="431.1" y="230.4" text-anchor="end">0</text><text x="431.1" y="222.63" text-anchor="end">10</text><text x="431.1" y="214.86" text-anchor="end">20</text><text x="431.1" y="207.08" text-anchor="end">30</text><text x="431.1" y="199.31" text-anchor="end">40</text><text x="431.1" y="191.54" text-anchor="end">50</text><text x="431.1" y="183.77" text-anchor="end">60</text><text x="431.1" y="176" text-anchor="end">70</text><text x="431.1" y="168.23" text-anchor="end">80</text><text x="431.1" y="160.45" text-anchor="end">90</text><text x="431.1" y="152.68" text-anchor="end">100</text><text x="447.01" y="232.7" text-anchor="middle">1</text><text x="476.3" y="232.7" text-anchor="middle">2</text><text x="505.6" y="232.7" text-anchor="middle">3</text><text x="534.89" y="232.7" text-anchor="middle">4</text></g>
<text x="490.95" y="238.5" text-anchor="middle" font-size="4.25" fill="#000">reaction step</text>
<text transform="translate(421.6 189.2) rotate(-90)" text-anchor="middle" font-size="4.75" fill="#000" style="stroke:#000;stroke-width:0.06px">percentage (%)</text>
<text x="490.95" y="147.5" text-anchor="middle" font-size="5.6" fill="#222" stroke="none">compound 9</text>
<rect x="500.9" y="152.4" width="46.9" height="35.0" fill="#fff" stroke="#7a7a7a" stroke-width="0.65"/><rect x="502.6" y="154.4" width="9.5" height="3" fill="#00e68c"/><text x="515.7" y="157.7" font-size="4.6" fill="#000">beam_width=10</text><rect x="502.6" y="161.1" width="9.5" height="3" fill="#00baa2"/><text x="515.7" y="164.4" font-size="4.6" fill="#000">beam_width=20</text><rect x="502.6" y="167.8" width="9.5" height="3" fill="#008eb9"/><text x="515.7" y="171.1" font-size="4.6" fill="#000">beam_width=30</text><rect x="502.6" y="174.5" width="9.5" height="3" fill="#0069cc"/><text x="515.7" y="177.8" font-size="4.6" fill="#000">beam_width=40</text><rect x="502.6" y="181.2" width="9.5" height="3" fill="#003cde"/><text x="515.7" y="184.5" font-size="4.6" fill="#000">beam_width=50</text>
<line x1="567.2" y1="149.6" x2="684" y2="149.6" stroke="#a0a0a0" stroke-width="0.7"/>
<line x1="684" y1="149.6" x2="684" y2="228.8" stroke="#a0a0a0" stroke-width="0.7"/>
<line x1="567.2" y1="149.6" x2="567.2" y2="228.8" stroke="#b4b4b4" stroke-width="0.7"/>
<line x1="567.2" y1="228.8" x2="684" y2="228.8" stroke="#b4b4b4" stroke-width="0.7"/>
<path d="M567.2 228.8h1.3M684 228.8h-1.3M567.2 224.94h0.8M684 224.94h-0.8M567.2 221.09h1.3M684 221.09h-1.3M567.2 217.23h0.8M684 217.23h-0.8M567.2 213.37h1.3M684 213.37h-1.3M567.2 209.52h0.8M684 209.52h-0.8M567.2 205.66h1.3M684 205.66h-1.3M567.2 201.81h0.8M684 201.81h-0.8M567.2 197.95h1.3M684 197.95h-1.3M567.2 194.09h0.8M684 194.09h-0.8M567.2 190.24h1.3M684 190.24h-1.3M567.2 186.38h0.8M684 186.38h-0.8M567.2 182.52h1.3M684 182.52h-1.3M567.2 178.67h0.8M684 178.67h-0.8M567.2 174.81h1.3M684 174.81h-1.3M567.2 170.96h0.8M684 170.96h-0.8M567.2 167.1h1.3M684 167.1h-1.3M567.2 163.24h0.8M684 163.24h-0.8M567.2 159.39h1.3M684 159.39h-1.3M567.2 155.53h0.8M684 155.53h-0.8M567.2 151.67h1.3M684 151.67h-1.3M570.18 228.8v-0.8M570.18 149.6v0.8M576.01 228.8v-0.8M576.01 149.6v0.8M581.84 228.8v-1.3M581.84 149.6v1.3M587.68 228.8v-0.8M587.68 149.6v0.8M593.51 228.8v-0.8M593.51 149.6v0.8M599.35 228.8v-0.8M599.35 149.6v0.8M605.18 228.8v-0.8M605.18 149.6v0.8M611.01 228.8v-1.3M611.01 149.6v1.3M616.85 228.8v-0.8M616.85 149.6v0.8M622.68 228.8v-0.8M622.68 149.6v0.8M628.52 228.8v-0.8M628.52 149.6v0.8M634.35 228.8v-0.8M634.35 149.6v0.8M640.19 228.8v-1.3M640.19 149.6v1.3M646.02 228.8v-0.8M646.02 149.6v0.8M651.85 228.8v-0.8M651.85 149.6v0.8M657.69 228.8v-0.8M657.69 149.6v0.8M663.52 228.8v-0.8M663.52 149.6v0.8M669.36 228.8v-1.3M669.36 149.6v1.3M675.19 228.8v-0.8M675.19 149.6v0.8M681.02 228.8v-0.8M681.02 149.6v0.8" stroke="#555" stroke-width="0.45" fill="none"/>
<g><rect x="572.68" y="228.26" width="3.38" height="0.54" fill="#00e68c"/><rect x="576.42" y="227.95" width="3.38" height="0.85" fill="#00baa2"/><rect x="580.15" y="226.79" width="3.38" height="2.01" fill="#008eb9"/><rect x="583.89" y="226.79" width="3.38" height="2.01" fill="#0069cc"/><rect x="587.62" y="226.79" width="3.38" height="2.01" fill="#003cde"/><rect x="601.85" y="208.52" width="3.38" height="20.28" fill="#00e68c"/><rect x="605.59" y="185.38" width="3.38" height="43.42" fill="#00baa2"/><rect x="609.32" y="159.7" width="3.38" height="69.1" fill="#008eb9"/><rect x="613.06" y="153.68" width="3.38" height="75.12" fill="#0069cc"/><rect x="616.79" y="153.37" width="3.38" height="75.43" fill="#003cde"/><rect x="631.03" y="182.52" width="3.38" height="46.28" fill="#00e68c"/><rect x="634.76" y="197.64" width="3.38" height="31.16" fill="#00baa2"/><rect x="638.49" y="222.55" width="3.38" height="6.25" fill="#008eb9"/><rect x="660.2" y="218.77" width="3.38" height="10.03" fill="#00e68c"/><rect x="663.93" y="226.79" width="3.38" height="2.01" fill="#00baa2"/></g>
<g font-size="4.5" fill="#000"><text x="566" y="230.3" text-anchor="end">0</text><text x="566" y="222.59" text-anchor="end">10</text><text x="566" y="214.87" text-anchor="end">20</text><text x="566" y="207.16" text-anchor="end">30</text><text x="566" y="199.45" text-anchor="end">40</text><text x="566" y="191.74" text-anchor="end">50</text><text x="566" y="184.02" text-anchor="end">60</text><text x="566" y="176.31" text-anchor="end">70</text><text x="566" y="168.6" text-anchor="end">80</text><text x="566" y="160.89" text-anchor="end">90</text><text x="566" y="153.17" text-anchor="end">100</text><text x="581.84" y="232.6" text-anchor="middle">1</text><text x="611.01" y="232.6" text-anchor="middle">2</text><text x="640.19" y="232.6" text-anchor="middle">3</text><text x="669.36" y="232.6" text-anchor="middle">4</text></g>
<text x="625.6" y="238.4" text-anchor="middle" font-size="4.25" fill="#000">reaction step</text>
<text transform="translate(556.6 189.2) rotate(-90)" text-anchor="middle" font-size="4.75" fill="#000" style="stroke:#000;stroke-width:0.06px">percentage (%)</text>
<text x="625.6" y="147.6" text-anchor="middle" font-size="5.6" fill="#222" stroke="none">compound 10</text>
<rect x="635.3" y="152.3" width="46.9" height="35.0" fill="#fff" stroke="#7a7a7a" stroke-width="0.65"/><rect x="637" y="154.3" width="9.5" height="3" fill="#00e68c"/><text x="650.1" y="157.6" font-size="4.6" fill="#000">beam_width=10</text><rect x="637" y="161" width="9.5" height="3" fill="#00baa2"/><text x="650.1" y="164.3" font-size="4.6" fill="#000">beam_width=20</text><rect x="637" y="167.7" width="9.5" height="3" fill="#008eb9"/><text x="650.1" y="171" font-size="4.6" fill="#000">beam_width=30</text><rect x="637" y="174.4" width="9.5" height="3" fill="#0069cc"/><text x="650.1" y="177.7" font-size="4.6" fill="#000">beam_width=40</text><rect x="637" y="181.1" width="9.5" height="3" fill="#003cde"/><text x="650.1" y="184.4" font-size="4.6" fill="#000">beam_width=50</text>
<line x1="25.8" y1="279.3" x2="143.5" y2="279.3" stroke="#a0a0a0" stroke-width="0.7"/>
<line x1="143.5" y1="279.3" x2="143.5" y2="358.3" stroke="#a0a0a0" stroke-width="0.7"/>
<line x1="25.8" y1="279.3" x2="25.8" y2="358.3" stroke="#b4b4b4" stroke-width="0.7"/>
<line x1="25.8" y1="358.3" x2="143.5" y2="358.3" stroke="#b4b4b4" stroke-width="0.7"/>
<path d="M25.8 358.3h1.3M143.5 358.3h-1.3M25.8 354.35h0.8M143.5 354.35h-0.8M25.8 350.4h1.3M143.5 350.4h-1.3M25.8 346.45h0.8M143.5 346.45h-0.8M25.8 342.5h1.3M143.5 342.5h-1.3M25.8 338.55h0.8M143.5 338.55h-0.8M25.8 334.6h1.3M143.5 334.6h-1.3M25.8 330.65h0.8M143.5 330.65h-0.8M25.8 326.7h1.3M143.5 326.7h-1.3M25.8 322.75h0.8M143.5 322.75h-0.8M25.8 318.8h1.3M143.5 318.8h-1.3M25.8 314.85h0.8M143.5 314.85h-0.8M25.8 310.9h1.3M143.5 310.9h-1.3M25.8 306.95h0.8M143.5 306.95h-0.8M25.8 303h1.3M143.5 303h-1.3M25.8 299.05h0.8M143.5 299.05h-0.8M25.8 295.1h1.3M143.5 295.1h-1.3M25.8 291.15h0.8M143.5 291.15h-0.8M25.8 287.2h1.3M143.5 287.2h-1.3M25.8 283.25h0.8M143.5 283.25h-0.8M25.8 279.3h1.3M143.5 279.3h-1.3M29.31 358.3v-0.8M29.31 279.3v0.8M33.92 358.3v-0.8M33.92 279.3v0.8M38.53 358.3v-1.3M38.53 279.3v1.3M43.14 358.3v-0.8M43.14 279.3v0.8M47.75 358.3v-0.8M47.75 279.3v0.8M52.37 358.3v-0.8M52.37 279.3v0.8M56.98 358.3v-0.8M56.98 279.3v0.8M61.59 358.3v-1.3M61.59 279.3v1.3M66.2 358.3v-0.8M66.2 279.3v0.8M70.81 358.3v-0.8M70.81 279.3v0.8M75.43 358.3v-0.8M75.43 279.3v0.8M80.04 358.3v-0.8M80.04 279.3v0.8M84.65 358.3v-1.3M84.65 279.3v1.3M89.26 358.3v-0.8M89.26 279.3v0.8M93.87 358.3v-0.8M93.87 279.3v0.8M98.49 358.3v-0.8M98.49 279.3v0.8M103.1 358.3v-0.8M103.1 279.3v0.8M107.71 358.3v-1.3M107.71 279.3v1.3M112.32 358.3v-0.8M112.32 279.3v0.8M116.93 358.3v-0.8M116.93 279.3v0.8M121.55 358.3v-0.8M121.55 279.3v0.8M126.16 358.3v-0.8M126.16 279.3v0.8M130.77 358.3v-1.3M130.77 279.3v1.3M135.38 358.3v-0.8M135.38 279.3v0.8M139.99 358.3v-0.8M139.99 279.3v0.8" stroke="#555" stroke-width="0.45" fill="none"/>
<g><rect x="31.32" y="357.19" width="2.6" height="1.11" fill="#00e68c"/><rect x="34.28" y="354.9" width="2.6" height="3.4" fill="#00baa2"/><rect x="37.23" y="354.59" width="2.6" height="3.71" fill="#008eb9"/><rect x="40.18" y="354.59" width="2.6" height="3.71" fill="#0069cc"/><rect x="43.13" y="355.46" width="2.6" height="2.84" fill="#003cde"/><rect x="54.39" y="339.26" width="2.6" height="19.04" fill="#00e68c"/><rect x="57.34" y="314.53" width="2.6" height="43.77" fill="#00baa2"/><rect x="60.29" y="284.12" width="2.6" height="74.18" fill="#008eb9"/><rect x="63.24" y="284.44" width="2.6" height="73.87" fill="#0069cc"/><rect x="66.19" y="285.3" width="2.6" height="73" fill="#003cde"/><rect x="77.45" y="306.56" width="2.6" height="51.75" fill="#00e68c"/><rect x="80.4" y="326.46" width="2.6" height="31.84" fill="#00baa2"/><rect x="83.35" y="357.43" width="2.6" height="0.87" fill="#008eb9"/><rect x="86.3" y="357.43" width="2.6" height="0.87" fill="#0069cc"/><rect x="89.25" y="355.77" width="2.6" height="2.53" fill="#003cde"/><rect x="100.51" y="352.3" width="2.6" height="6" fill="#00e68c"/><rect x="103.46" y="357.91" width="2.6" height="0.39" fill="#00baa2"/><rect x="123.57" y="357.91" width="2.6" height="0.39" fill="#00e68c"/></g>
<g font-size="4.5" fill="#000"><text x="24.6" y="359.8" text-anchor="end">0</text><text x="24.6" y="351.9" text-anchor="end">10</text><text x="24.6" y="344" text-anchor="end">20</text><text x="24.6" y="336.1" text-anchor="end">30</text><text x="24.6" y="328.2" text-anchor="end">40</text><text x="24.6" y="320.3" text-anchor="end">50</text><text x="24.6" y="312.4" text-anchor="end">60</text><text x="24.6" y="304.5" text-anchor="end">70</text><text x="24.6" y="296.6" text-anchor="end">80</text><text x="24.6" y="288.7" text-anchor="end">90</text><text x="24.6" y="280.8" text-anchor="end">100</text><text x="38.53" y="362.1" text-anchor="middle">1</text><text x="61.59" y="362.1" text-anchor="middle">2</text><text x="84.65" y="362.1" text-anchor="middle">3</text><text x="107.71" y="362.1" text-anchor="middle">4</text><text x="130.77" y="362.1" text-anchor="middle">5</text></g>
<text x="84.65" y="367.9" text-anchor="middle" font-size="4.25" fill="#000">reaction step</text>
<text transform="translate(15.45 318.8) rotate(-90)" text-anchor="middle" font-size="4.75" fill="#000" style="stroke:#000;stroke-width:0.06px">percentage (%)</text>
<text x="84.65" y="277.3" text-anchor="middle" font-size="5.6" fill="#222" stroke="none">compound 11</text>
<rect x="94.8" y="281.2" width="46.9" height="35.0" fill="#fff" stroke="#7a7a7a" stroke-width="0.65"/><rect x="96.5" y="283.2" width="9.5" height="3" fill="#00e68c"/><text x="109.6" y="286.5" font-size="4.6" fill="#000">beam_width=10</text><rect x="96.5" y="289.95" width="9.5" height="3" fill="#00baa2"/><text x="109.6" y="293.25" font-size="4.6" fill="#000">beam_width=20</text><rect x="96.5" y="296.7" width="9.5" height="3" fill="#008eb9"/><text x="109.6" y="300" font-size="4.6" fill="#000">beam_width=30</text><rect x="96.5" y="303.45" width="9.5" height="3" fill="#0069cc"/><text x="109.6" y="306.75" font-size="4.6" fill="#000">beam_width=40</text><rect x="96.5" y="310.2" width="9.5" height="3" fill="#003cde"/><text x="109.6" y="313.5" font-size="4.6" fill="#000">beam_width=50</text>
<line x1="160.4" y1="279.3" x2="278.1" y2="279.3" stroke="#a0a0a0" stroke-width="0.7"/>
<line x1="278.1" y1="279.3" x2="278.1" y2="358.3" stroke="#a0a0a0" stroke-width="0.7"/>
<line x1="160.4" y1="279.3" x2="160.4" y2="358.3" stroke="#b4b4b4" stroke-width="0.7"/>
<line x1="160.4" y1="358.3" x2="278.1" y2="358.3" stroke="#b4b4b4" stroke-width="0.7"/>
<path d="M160.4 358.3h1.3M278.1 358.3h-1.3M160.4 354.48h0.8M278.1 354.48h-0.8M160.4 350.66h1.3M278.1 350.66h-1.3M160.4 346.84h0.8M278.1 346.84h-0.8M160.4 343.02h1.3M278.1 343.02h-1.3M160.4 339.2h0.8M278.1 339.2h-0.8M160.4 335.38h1.3M278.1 335.38h-1.3M160.4 331.57h0.8M278.1 331.57h-0.8M160.4 327.75h1.3M278.1 327.75h-1.3M160.4 323.93h0.8M278.1 323.93h-0.8M160.4 320.11h1.3M278.1 320.11h-1.3M160.4 316.29h0.8M278.1 316.29h-0.8M160.4 312.47h1.3M278.1 312.47h-1.3M160.4 308.65h0.8M278.1 308.65h-0.8M160.4 304.83h1.3M278.1 304.83h-1.3M160.4 301.01h0.8M278.1 301.01h-0.8M160.4 297.19h1.3M278.1 297.19h-1.3M160.4 293.37h0.8M278.1 293.37h-0.8M160.4 289.55h1.3M278.1 289.55h-1.3M160.4 285.74h0.8M278.1 285.74h-0.8M160.4 281.92h1.3M278.1 281.92h-1.3M163.4 358.3v-0.8M163.4 279.3v0.8M169.28 358.3v-0.8M169.28 279.3v0.8M175.16 358.3v-1.3M175.16 279.3v1.3M181.04 358.3v-0.8M181.04 279.3v0.8M186.91 358.3v-0.8M186.91 279.3v0.8M192.79 358.3v-0.8M192.79 279.3v0.8M198.67 358.3v-0.8M198.67 279.3v0.8M204.55 358.3v-1.3M204.55 279.3v1.3M210.43 358.3v-0.8M210.43 279.3v0.8M216.31 358.3v-0.8M216.31 279.3v0.8M222.19 358.3v-0.8M222.19 279.3v0.8M228.07 358.3v-0.8M228.07 279.3v0.8M233.95 358.3v-1.3M233.95 279.3v1.3M239.83 358.3v-0.8M239.83 279.3v0.8M245.71 358.3v-0.8M245.71 279.3v0.8M251.59 358.3v-0.8M251.59 279.3v0.8M257.46 358.3v-0.8M257.46 279.3v0.8M263.34 358.3v-1.3M263.34 279.3v1.3M269.22 358.3v-0.8M269.22 279.3v0.8M275.1 358.3v-0.8M275.1 279.3v0.8" stroke="#555" stroke-width="0.45" fill="none"/>
<g><rect x="165.93" y="357.15" width="3.41" height="1.15" fill="#00e68c"/><rect x="169.69" y="357.15" width="3.41" height="1.15" fill="#00baa2"/><rect x="173.45" y="357.46" width="3.41" height="0.84" fill="#008eb9"/><rect x="177.21" y="357.46" width="3.41" height="0.84" fill="#0069cc"/><rect x="180.98" y="357.46" width="3.41" height="0.84" fill="#003cde"/><rect x="195.32" y="325.07" width="3.41" height="33.23" fill="#00e68c"/><rect x="199.08" y="299.48" width="3.41" height="58.82" fill="#00baa2"/><rect x="202.85" y="283.9" width="3.41" height="74.4" fill="#008eb9"/><rect x="206.61" y="284.21" width="3.41" height="74.09" fill="#0069cc"/><rect x="210.37" y="283.06" width="3.41" height="75.24" fill="#003cde"/><rect x="224.72" y="317.13" width="3.41" height="41.17" fill="#00e68c"/><rect x="228.48" y="341.27" width="3.41" height="17.03" fill="#00baa2"/><rect x="232.24" y="357.15" width="3.41" height="1.15" fill="#008eb9"/><rect x="236" y="357.15" width="3.41" height="1.15" fill="#0069cc"/><rect x="239.77" y="357.77" width="3.41" height="0.53" fill="#003cde"/><rect x="254.11" y="357.15" width="3.41" height="1.15" fill="#00e68c"/></g>
<g font-size="4.5" fill="#000"><text x="159.2" y="359.8" text-anchor="end">0</text><text x="159.2" y="352.16" text-anchor="end">10</text><text x="159.2" y="344.52" text-anchor="end">20</text><text x="159.2" y="336.88" text-anchor="end">30</text><text x="159.2" y="329.25" text-anchor="end">40</text><text x="159.2" y="321.61" text-anchor="end">50</text><text x="159.2" y="313.97" text-anchor="end">60</text><text x="159.2" y="306.33" text-anchor="end">70</text><text x="159.2" y="298.69" text-anchor="end">80</text><text x="159.2" y="291.05" text-anchor="end">90</text><text x="159.2" y="283.42" text-anchor="end">100</text><text x="175.16" y="362.1" text-anchor="middle">1</text><text x="204.55" y="362.1" text-anchor="middle">2</text><text x="233.95" y="362.1" text-anchor="middle">3</text><text x="263.34" y="362.1" text-anchor="middle">4</text></g>
<text x="219.25" y="367.9" text-anchor="middle" font-size="4.25" fill="#000">reaction step</text>
<text transform="translate(149.7 318.8) rotate(-90)" text-anchor="middle" font-size="4.75" fill="#000" style="stroke:#000;stroke-width:0.06px">percentage (%)</text>
<text x="219.25" y="277.3" text-anchor="middle" font-size="5.6" fill="#222" stroke="none">compound 12</text>
<rect x="229.4" y="281.2" width="46.9" height="35.0" fill="#fff" stroke="#7a7a7a" stroke-width="0.65"/><rect x="231.1" y="283.2" width="9.5" height="3" fill="#00e68c"/><text x="244.2" y="286.5" font-size="4.6" fill="#000">beam_width=10</text><rect x="231.1" y="289.95" width="9.5" height="3" fill="#00baa2"/><text x="244.2" y="293.25" font-size="4.6" fill="#000">beam_width=20</text><rect x="231.1" y="296.7" width="9.5" height="3" fill="#008eb9"/><text x="244.2" y="300" font-size="4.6" fill="#000">beam_width=30</text><rect x="231.1" y="303.45" width="9.5" height="3" fill="#0069cc"/><text x="244.2" y="306.75" font-size="4.6" fill="#000">beam_width=40</text><rect x="231.1" y="310.2" width="9.5" height="3" fill="#003cde"/><text x="244.2" y="313.5" font-size="4.6" fill="#000">beam_width=50</text>
<line x1="296.5" y1="279.3" x2="413.5" y2="279.3" stroke="#a0a0a0" stroke-width="0.7"/>
<line x1="413.5" y1="279.3" x2="413.5" y2="358.4" stroke="#a0a0a0" stroke-width="0.7"/>
<line x1="296.5" y1="279.3" x2="296.5" y2="358.4" stroke="#b4b4b4" stroke-width="0.7"/>
<line x1="296.5" y1="358.4" x2="413.5" y2="358.4" stroke="#b4b4b4" stroke-width="0.7"/>
<path d="M296.5 358.4h1.3M413.5 358.4h-1.3M296.5 354.6h0.8M413.5 354.6h-0.8M296.5 350.79h1.3M413.5 350.79h-1.3M296.5 346.99h0.8M413.5 346.99h-0.8M296.5 343.18h1.3M413.5 343.18h-1.3M296.5 339.38h0.8M413.5 339.38h-0.8M296.5 335.57h1.3M413.5 335.57h-1.3M296.5 331.77h0.8M413.5 331.77h-0.8M296.5 327.96h1.3M413.5 327.96h-1.3M296.5 324.16h0.8M413.5 324.16h-0.8M296.5 320.35h1.3M413.5 320.35h-1.3M296.5 316.55h0.8M413.5 316.55h-0.8M296.5 312.74h1.3M413.5 312.74h-1.3M296.5 308.94h0.8M413.5 308.94h-0.8M296.5 305.13h1.3M413.5 305.13h-1.3M296.5 301.33h0.8M413.5 301.33h-0.8M296.5 297.52h1.3M413.5 297.52h-1.3M296.5 293.72h0.8M413.5 293.72h-0.8M296.5 289.92h1.3M413.5 289.92h-1.3M296.5 286.11h0.8M413.5 286.11h-0.8M296.5 282.31h1.3M413.5 282.31h-1.3M298.6 358.4v-0.8M298.6 279.3v0.8M306.65 358.4v-0.8M306.65 279.3v0.8M314.71 358.4v-1.3M314.71 279.3v1.3M322.77 358.4v-0.8M322.77 279.3v0.8M330.83 358.4v-0.8M330.83 279.3v0.8M338.88 358.4v-0.8M338.88 279.3v0.8M346.94 358.4v-0.8M346.94 279.3v0.8M355 358.4v-1.3M355 279.3v1.3M363.06 358.4v-0.8M363.06 279.3v0.8M371.12 358.4v-0.8M371.12 279.3v0.8M379.17 358.4v-0.8M379.17 279.3v0.8M387.23 358.4v-0.8M387.23 279.3v0.8M395.29 358.4v-1.3M395.29 279.3v1.3M403.35 358.4v-0.8M403.35 279.3v0.8M411.4 358.4v-0.8M411.4 279.3v0.8" stroke="#555" stroke-width="0.45" fill="none"/>
<g><rect x="301.99" y="358.02" width="4.81" height="0.38" fill="#00e68c"/><rect x="307.15" y="357.26" width="4.81" height="1.14" fill="#00baa2"/><rect x="312.31" y="357.26" width="4.81" height="1.14" fill="#008eb9"/><rect x="317.46" y="357.26" width="4.81" height="1.14" fill="#0069cc"/><rect x="322.62" y="357.26" width="4.81" height="1.14" fill="#003cde"/><rect x="342.28" y="325.3" width="4.81" height="33.1" fill="#00e68c"/><rect x="347.44" y="292.96" width="4.81" height="65.44" fill="#00baa2"/><rect x="352.6" y="283.07" width="4.81" height="75.33" fill="#008eb9"/><rect x="357.75" y="283.07" width="4.81" height="75.33" fill="#0069cc"/><rect x="362.91" y="283.07" width="4.81" height="75.33" fill="#003cde"/><rect x="382.57" y="316.02" width="4.81" height="42.38" fill="#00e68c"/><rect x="387.73" y="348.2" width="4.81" height="10.2" fill="#00baa2"/></g>
<g font-size="4.5" fill="#000"><text x="295.3" y="359.9" text-anchor="end">0</text><text x="295.3" y="352.29" text-anchor="end">10</text><text x="295.3" y="344.68" text-anchor="end">20</text><text x="295.3" y="337.07" text-anchor="end">30</text><text x="295.3" y="329.46" text-anchor="end">40</text><text x="295.3" y="321.85" text-anchor="end">50</text><text x="295.3" y="314.24" text-anchor="end">60</text><text x="295.3" y="306.63" text-anchor="end">70</text><text x="295.3" y="299.02" text-anchor="end">80</text><text x="295.3" y="291.42" text-anchor="end">90</text><text x="295.3" y="283.81" text-anchor="end">100</text><text x="314.71" y="362.2" text-anchor="middle">1</text><text x="355" y="362.2" text-anchor="middle">2</text><text x="395.29" y="362.2" text-anchor="middle">3</text></g>
<text x="355" y="368" text-anchor="middle" font-size="4.25" fill="#000">reaction step</text>
<text transform="translate(285.6 318.85) rotate(-90)" text-anchor="middle" font-size="4.75" fill="#000" style="stroke:#000;stroke-width:0.06px">percentage (%)</text>
<text x="355" y="277.3" text-anchor="middle" font-size="5.6" fill="#222" stroke="none">compound 13</text>
<rect x="298.3" y="281.2" width="46.9" height="35.0" fill="#fff" stroke="#7a7a7a" stroke-width="0.65"/><rect x="300" y="283.2" width="9.5" height="3" fill="#00e68c"/><text x="313.1" y="286.5" font-size="4.6" fill="#000">beam_width=10</text><rect x="300" y="289.95" width="9.5" height="3" fill="#00baa2"/><text x="313.1" y="293.25" font-size="4.6" fill="#000">beam_width=20</text><rect x="300" y="296.7" width="9.5" height="3" fill="#008eb9"/><text x="313.1" y="300" font-size="4.6" fill="#000">beam_width=30</text><rect x="300" y="303.45" width="9.5" height="3" fill="#0069cc"/><text x="313.1" y="306.75" font-size="4.6" fill="#000">beam_width=40</text><rect x="300" y="310.2" width="9.5" height="3" fill="#003cde"/><text x="313.1" y="313.5" font-size="4.6" fill="#000">beam_width=50</text>
<line x1="431.4" y1="279.3" x2="548.5" y2="279.3" stroke="#a0a0a0" stroke-width="0.7"/>
<line x1="548.5" y1="279.3" x2="548.5" y2="358.3" stroke="#a0a0a0" stroke-width="0.7"/>
<line x1="431.4" y1="279.3" x2="431.4" y2="358.3" stroke="#b4b4b4" stroke-width="0.7"/>
<line x1="431.4" y1="358.3" x2="548.5" y2="358.3" stroke="#b4b4b4" stroke-width="0.7"/>
<path d="M431.4 358.3h1.3M548.5 358.3h-1.3M431.4 354.51h0.8M548.5 354.51h-0.8M431.4 350.72h1.3M548.5 350.72h-1.3M431.4 346.93h0.8M548.5 346.93h-0.8M431.4 343.15h1.3M548.5 343.15h-1.3M431.4 339.36h0.8M548.5 339.36h-0.8M431.4 335.57h1.3M548.5 335.57h-1.3M431.4 331.78h0.8M548.5 331.78h-0.8M431.4 327.99h1.3M548.5 327.99h-1.3M431.4 324.2h0.8M548.5 324.2h-0.8M431.4 320.42h1.3M548.5 320.42h-1.3M431.4 316.63h0.8M548.5 316.63h-0.8M431.4 312.84h1.3M548.5 312.84h-1.3M431.4 309.05h0.8M548.5 309.05h-0.8M431.4 305.26h1.3M548.5 305.26h-1.3M431.4 301.47h0.8M548.5 301.47h-0.8M431.4 297.69h1.3M548.5 297.69h-1.3M431.4 293.9h0.8M548.5 293.9h-0.8M431.4 290.11h1.3M548.5 290.11h-1.3M431.4 286.32h0.8M548.5 286.32h-0.8M431.4 282.53h1.3M548.5 282.53h-1.3M433.5 358.3v-0.8M433.5 279.3v0.8M441.56 358.3v-0.8M441.56 279.3v0.8M449.63 358.3v-1.3M449.63 279.3v1.3M457.69 358.3v-0.8M457.69 279.3v0.8M465.76 358.3v-0.8M465.76 279.3v0.8M473.82 358.3v-0.8M473.82 279.3v0.8M481.89 358.3v-0.8M481.89 279.3v0.8M489.95 358.3v-1.3M489.95 279.3v1.3M498.01 358.3v-0.8M498.01 279.3v0.8M506.08 358.3v-0.8M506.08 279.3v0.8M514.14 358.3v-0.8M514.14 279.3v0.8M522.21 358.3v-0.8M522.21 279.3v0.8M530.27 358.3v-1.3M530.27 279.3v1.3M538.34 358.3v-0.8M538.34 279.3v0.8M546.4 358.3v-0.8M546.4 279.3v0.8" stroke="#555" stroke-width="0.45" fill="none"/>
<g><rect x="436.9" y="357.85" width="4.81" height="0.45" fill="#00e68c"/><rect x="442.06" y="357.24" width="4.81" height="1.06" fill="#00baa2"/><rect x="447.22" y="357.24" width="4.81" height="1.06" fill="#008eb9"/><rect x="452.38" y="357.24" width="4.81" height="1.06" fill="#0069cc"/><rect x="457.54" y="357.24" width="4.81" height="1.06" fill="#003cde"/><rect x="477.22" y="328.75" width="4.81" height="29.55" fill="#00e68c"/><rect x="482.38" y="301.25" width="4.81" height="57.05" fill="#00baa2"/><rect x="487.54" y="283.06" width="4.81" height="75.24" fill="#008eb9"/><rect x="492.71" y="283.06" width="4.81" height="75.24" fill="#0069cc"/><rect x="497.87" y="283.06" width="4.81" height="75.24" fill="#003cde"/><rect x="517.55" y="312.61" width="4.81" height="45.69" fill="#00e68c"/><rect x="522.71" y="339.89" width="4.81" height="18.41" fill="#00baa2"/></g>
<g font-size="4.5" fill="#000"><text x="430.2" y="359.8" text-anchor="end">0</text><text x="430.2" y="352.22" text-anchor="end">10</text><text x="430.2" y="344.65" text-anchor="end">20</text><text x="430.2" y="337.07" text-anchor="end">30</text><text x="430.2" y="329.49" text-anchor="end">40</text><text x="430.2" y="321.92" text-anchor="end">50</text><text x="430.2" y="314.34" text-anchor="end">60</text><text x="430.2" y="306.76" text-anchor="end">70</text><text x="430.2" y="299.19" text-anchor="end">80</text><text x="430.2" y="291.61" text-anchor="end">90</text><text x="430.2" y="284.03" text-anchor="end">100</text><text x="449.63" y="362.1" text-anchor="middle">1</text><text x="489.95" y="362.1" text-anchor="middle">2</text><text x="530.27" y="362.1" text-anchor="middle">3</text></g>
<text x="489.95" y="367.9" text-anchor="middle" font-size="4.25" fill="#000">reaction step</text>
<text transform="translate(420.85 318.8) rotate(-90)" text-anchor="middle" font-size="4.75" fill="#000" style="stroke:#000;stroke-width:0.06px">percentage (%)</text>
<text x="489.95" y="277.3" text-anchor="middle" font-size="5.6" fill="#222" stroke="none">compound 14</text>
<rect x="433.2" y="281.2" width="46.9" height="35.0" fill="#fff" stroke="#7a7a7a" stroke-width="0.65"/><rect x="434.9" y="283.2" width="9.5" height="3" fill="#00e68c"/><text x="448" y="286.5" font-size="4.6" fill="#000">beam_width=10</text><rect x="434.9" y="289.95" width="9.5" height="3" fill="#00baa2"/><text x="448" y="293.25" font-size="4.6" fill="#000">beam_width=20</text><rect x="434.9" y="296.7" width="9.5" height="3" fill="#008eb9"/><text x="448" y="300" font-size="4.6" fill="#000">beam_width=30</text><rect x="434.9" y="303.45" width="9.5" height="3" fill="#0069cc"/><text x="448" y="306.75" font-size="4.6" fill="#000">beam_width=40</text><rect x="434.9" y="310.2" width="9.5" height="3" fill="#003cde"/><text x="448" y="313.5" font-size="4.6" fill="#000">beam_width=50</text>
<line x1="566.4" y1="279.3" x2="684.1" y2="279.3" stroke="#a0a0a0" stroke-width="0.7"/>
<line x1="684.1" y1="279.3" x2="684.1" y2="358.3" stroke="#a0a0a0" stroke-width="0.7"/>
<line x1="566.4" y1="279.3" x2="566.4" y2="358.3" stroke="#b4b4b4" stroke-width="0.7"/>
<line x1="566.4" y1="358.3" x2="684.1" y2="358.3" stroke="#b4b4b4" stroke-width="0.7"/>
<path d="M566.4 358.3h1.3M684.1 358.3h-1.3M566.4 354.35h0.8M684.1 354.35h-0.8M566.4 350.4h1.3M684.1 350.4h-1.3M566.4 346.45h0.8M684.1 346.45h-0.8M566.4 342.5h1.3M684.1 342.5h-1.3M566.4 338.55h0.8M684.1 338.55h-0.8M566.4 334.6h1.3M684.1 334.6h-1.3M566.4 330.65h0.8M684.1 330.65h-0.8M566.4 326.7h1.3M684.1 326.7h-1.3M566.4 322.75h0.8M684.1 322.75h-0.8M566.4 318.8h1.3M684.1 318.8h-1.3M566.4 314.85h0.8M684.1 314.85h-0.8M566.4 310.9h1.3M684.1 310.9h-1.3M566.4 306.95h0.8M684.1 306.95h-0.8M566.4 303h1.3M684.1 303h-1.3M566.4 299.05h0.8M684.1 299.05h-0.8M566.4 295.1h1.3M684.1 295.1h-1.3M566.4 291.15h0.8M684.1 291.15h-0.8M566.4 287.2h1.3M684.1 287.2h-1.3M566.4 283.25h0.8M684.1 283.25h-0.8M566.4 279.3h1.3M684.1 279.3h-1.3M569.91 358.3v-0.8M569.91 279.3v0.8M574.52 358.3v-0.8M574.52 279.3v0.8M579.13 358.3v-1.3M579.13 279.3v1.3M583.74 358.3v-0.8M583.74 279.3v0.8M588.35 358.3v-0.8M588.35 279.3v0.8M592.97 358.3v-0.8M592.97 279.3v0.8M597.58 358.3v-0.8M597.58 279.3v0.8M602.19 358.3v-1.3M602.19 279.3v1.3M606.8 358.3v-0.8M606.8 279.3v0.8M611.41 358.3v-0.8M611.41 279.3v0.8M616.03 358.3v-0.8M616.03 279.3v0.8M620.64 358.3v-0.8M620.64 279.3v0.8M625.25 358.3v-1.3M625.25 279.3v1.3M629.86 358.3v-0.8M629.86 279.3v0.8M634.47 358.3v-0.8M634.47 279.3v0.8M639.09 358.3v-0.8M639.09 279.3v0.8M643.7 358.3v-0.8M643.7 279.3v0.8M648.31 358.3v-1.3M648.31 279.3v1.3M652.92 358.3v-0.8M652.92 279.3v0.8M657.53 358.3v-0.8M657.53 279.3v0.8M662.15 358.3v-0.8M662.15 279.3v0.8M666.76 358.3v-0.8M666.76 279.3v0.8M671.37 358.3v-1.3M671.37 279.3v1.3M675.98 358.3v-0.8M675.98 279.3v0.8M680.59 358.3v-0.8M680.59 279.3v0.8" stroke="#555" stroke-width="0.45" fill="none"/>
<g><rect x="571.92" y="357.91" width="2.6" height="0.39" fill="#00e68c"/><rect x="574.88" y="357.67" width="2.6" height="0.63" fill="#00baa2"/><rect x="577.83" y="357.67" width="2.6" height="0.63" fill="#008eb9"/><rect x="580.78" y="357.67" width="2.6" height="0.63" fill="#0069cc"/><rect x="583.73" y="357.67" width="2.6" height="0.63" fill="#003cde"/><rect x="594.99" y="348.82" width="2.6" height="9.48" fill="#00e68c"/><rect x="597.94" y="343.84" width="2.6" height="14.46" fill="#00baa2"/><rect x="600.89" y="333.97" width="2.6" height="24.33" fill="#008eb9"/><rect x="603.84" y="325.36" width="2.6" height="32.94" fill="#0069cc"/><rect x="606.79" y="307.98" width="2.6" height="50.32" fill="#003cde"/><rect x="618.05" y="295.18" width="2.6" height="63.12" fill="#00e68c"/><rect x="621" y="300.31" width="2.6" height="57.99" fill="#00baa2"/><rect x="623.95" y="307.98" width="2.6" height="50.32" fill="#008eb9"/><rect x="626.9" y="315.64" width="2.6" height="42.66" fill="#0069cc"/><rect x="629.85" y="330.18" width="2.6" height="28.12" fill="#003cde"/><rect x="641.11" y="352.3" width="2.6" height="6" fill="#00e68c"/><rect x="644.06" y="352.3" width="2.6" height="6" fill="#00baa2"/><rect x="647.01" y="353.48" width="2.6" height="4.82" fill="#008eb9"/><rect x="649.96" y="355.77" width="2.6" height="2.53" fill="#0069cc"/><rect x="664.17" y="357.91" width="2.6" height="0.39" fill="#00e68c"/><rect x="667.12" y="358.06" width="2.6" height="0.24" fill="#00baa2"/></g>
<g font-size="4.5" fill="#000"><text x="565.2" y="359.8" text-anchor="end">0</text><text x="565.2" y="351.9" text-anchor="end">10</text><text x="565.2" y="344" text-anchor="end">20</text><text x="565.2" y="336.1" text-anchor="end">30</text><text x="565.2" y="328.2" text-anchor="end">40</text><text x="565.2" y="320.3" text-anchor="end">50</text><text x="565.2" y="312.4" text-anchor="end">60</text><text x="565.2" y="304.5" text-anchor="end">70</text><text x="565.2" y="296.6" text-anchor="end">80</text><text x="565.2" y="288.7" text-anchor="end">90</text><text x="565.2" y="280.8" text-anchor="end">100</text><text x="579.13" y="362.1" text-anchor="middle">1</text><text x="602.19" y="362.1" text-anchor="middle">2</text><text x="625.25" y="362.1" text-anchor="middle">3</text><text x="648.31" y="362.1" text-anchor="middle">4</text><text x="671.37" y="362.1" text-anchor="middle">5</text></g>
<text x="625.25" y="367.9" text-anchor="middle" font-size="4.25" fill="#000">reaction step</text>
<text transform="translate(555.7 318.8) rotate(-90)" text-anchor="middle" font-size="4.75" fill="#000" style="stroke:#000;stroke-width:0.06px">percentage (%)</text>
<text x="625.25" y="277.3" text-anchor="middle" font-size="5.6" fill="#222" stroke="none">compound 15</text>
<rect x="635.4" y="281.2" width="46.9" height="35.0" fill="#fff" stroke="#7a7a7a" stroke-width="0.65"/><rect x="637.1" y="283.2" width="9.5" height="3" fill="#00e68c"/><text x="650.2" y="286.5" font-size="4.6" fill="#000">beam_width=10</text><rect x="637.1" y="289.95" width="9.5" height="3" fill="#00baa2"/><text x="650.2" y="293.25" font-size="4.6" fill="#000">beam_width=20</text><rect x="637.1" y="296.7" width="9.5" height="3" fill="#008eb9"/><text x="650.2" y="300" font-size="4.6" fill="#000">beam_width=30</text><rect x="637.1" y="303.45" width="9.5" height="3" fill="#0069cc"/><text x="650.2" y="306.75" font-size="4.6" fill="#000">beam_width=40</text><rect x="637.1" y="310.2" width="9.5" height="3" fill="#003cde"/><text x="650.2" y="313.5" font-size="4.6" fill="#000">beam_width=50</text></svg>
</body></html>
